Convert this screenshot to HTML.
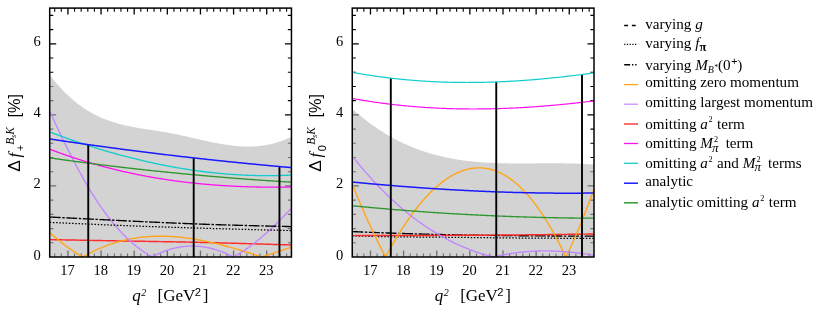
<!DOCTYPE html>
<html><head><meta charset="utf-8"><title>plot</title>
<style>
html,body{margin:0;padding:0;background:#fff;}
body{width:822px;height:310px;overflow:hidden;position:relative;font-family:"Liberation Serif",serif;}
svg{display:block;position:absolute;left:0;top:0;}
svg.txt{filter:grayscale(1);}
text{font-family:"Liberation Serif",serif;fill:#000;}
.tl{font-size:14.5px;}
.lab{font-size:17px;}
.lg{font-size:15.13px;}
.it{font-style:italic;}
.sup{font-size:10px;}
.sans{font-family:"Liberation Sans",sans-serif;}
</style></head><body>
<svg width="822" height="310" viewBox="0 0 822 310">
<rect width="822" height="310" fill="#fff"/>
<g id="left">
<path d="M54.68 257.00 v-3.60 M54.68 8.10 v3.60" stroke="#000" stroke-width="1.1"/>
<path d="M61.30 257.00 v-3.60 M61.30 8.10 v3.60" stroke="#000" stroke-width="1.1"/>
<path d="M67.93 257.00 v-6.50 M67.93 8.10 v6.50" stroke="#000" stroke-width="1.3"/>
<path d="M74.56 257.00 v-3.60 M74.56 8.10 v3.60" stroke="#000" stroke-width="1.1"/>
<path d="M81.18 257.00 v-3.60 M81.18 8.10 v3.60" stroke="#000" stroke-width="1.1"/>
<path d="M87.81 257.00 v-3.60 M87.81 8.10 v3.60" stroke="#000" stroke-width="1.1"/>
<path d="M94.43 257.00 v-3.60 M94.43 8.10 v3.60" stroke="#000" stroke-width="1.1"/>
<path d="M101.06 257.00 v-6.50 M101.06 8.10 v6.50" stroke="#000" stroke-width="1.3"/>
<path d="M107.69 257.00 v-3.60 M107.69 8.10 v3.60" stroke="#000" stroke-width="1.1"/>
<path d="M114.31 257.00 v-3.60 M114.31 8.10 v3.60" stroke="#000" stroke-width="1.1"/>
<path d="M120.94 257.00 v-3.60 M120.94 8.10 v3.60" stroke="#000" stroke-width="1.1"/>
<path d="M127.56 257.00 v-3.60 M127.56 8.10 v3.60" stroke="#000" stroke-width="1.1"/>
<path d="M134.19 257.00 v-6.50 M134.19 8.10 v6.50" stroke="#000" stroke-width="1.3"/>
<path d="M140.82 257.00 v-3.60 M140.82 8.10 v3.60" stroke="#000" stroke-width="1.1"/>
<path d="M147.44 257.00 v-3.60 M147.44 8.10 v3.60" stroke="#000" stroke-width="1.1"/>
<path d="M154.07 257.00 v-3.60 M154.07 8.10 v3.60" stroke="#000" stroke-width="1.1"/>
<path d="M160.69 257.00 v-3.60 M160.69 8.10 v3.60" stroke="#000" stroke-width="1.1"/>
<path d="M167.32 257.00 v-6.50 M167.32 8.10 v6.50" stroke="#000" stroke-width="1.3"/>
<path d="M173.95 257.00 v-3.60 M173.95 8.10 v3.60" stroke="#000" stroke-width="1.1"/>
<path d="M180.57 257.00 v-3.60 M180.57 8.10 v3.60" stroke="#000" stroke-width="1.1"/>
<path d="M187.20 257.00 v-3.60 M187.20 8.10 v3.60" stroke="#000" stroke-width="1.1"/>
<path d="M193.82 257.00 v-3.60 M193.82 8.10 v3.60" stroke="#000" stroke-width="1.1"/>
<path d="M200.45 257.00 v-6.50 M200.45 8.10 v6.50" stroke="#000" stroke-width="1.3"/>
<path d="M207.08 257.00 v-3.60 M207.08 8.10 v3.60" stroke="#000" stroke-width="1.1"/>
<path d="M213.70 257.00 v-3.60 M213.70 8.10 v3.60" stroke="#000" stroke-width="1.1"/>
<path d="M220.33 257.00 v-3.60 M220.33 8.10 v3.60" stroke="#000" stroke-width="1.1"/>
<path d="M226.95 257.00 v-3.60 M226.95 8.10 v3.60" stroke="#000" stroke-width="1.1"/>
<path d="M233.58 257.00 v-6.50 M233.58 8.10 v6.50" stroke="#000" stroke-width="1.3"/>
<path d="M240.21 257.00 v-3.60 M240.21 8.10 v3.60" stroke="#000" stroke-width="1.1"/>
<path d="M246.83 257.00 v-3.60 M246.83 8.10 v3.60" stroke="#000" stroke-width="1.1"/>
<path d="M253.46 257.00 v-3.60 M253.46 8.10 v3.60" stroke="#000" stroke-width="1.1"/>
<path d="M260.08 257.00 v-3.60 M260.08 8.10 v3.60" stroke="#000" stroke-width="1.1"/>
<path d="M266.71 257.00 v-6.50 M266.71 8.10 v6.50" stroke="#000" stroke-width="1.3"/>
<path d="M273.34 257.00 v-3.60 M273.34 8.10 v3.60" stroke="#000" stroke-width="1.1"/>
<path d="M279.96 257.00 v-3.60 M279.96 8.10 v3.60" stroke="#000" stroke-width="1.1"/>
<path d="M286.59 257.00 v-3.60 M286.59 8.10 v3.60" stroke="#000" stroke-width="1.1"/>
<path d="M49.70 242.79 h3.60 M291.45 242.79 h-3.60" stroke="#000" stroke-width="1.1"/>
<path d="M49.70 228.58 h3.60 M291.45 228.58 h-3.60" stroke="#000" stroke-width="1.1"/>
<path d="M49.70 214.36 h3.60 M291.45 214.36 h-3.60" stroke="#000" stroke-width="1.1"/>
<path d="M49.70 200.15 h3.60 M291.45 200.15 h-3.60" stroke="#000" stroke-width="1.1"/>
<path d="M49.70 185.94 h6.50 M291.45 185.94 h-6.50" stroke="#000" stroke-width="1.3"/>
<path d="M49.70 171.73 h3.60 M291.45 171.73 h-3.60" stroke="#000" stroke-width="1.1"/>
<path d="M49.70 157.52 h3.60 M291.45 157.52 h-3.60" stroke="#000" stroke-width="1.1"/>
<path d="M49.70 143.30 h3.60 M291.45 143.30 h-3.60" stroke="#000" stroke-width="1.1"/>
<path d="M49.70 129.09 h3.60 M291.45 129.09 h-3.60" stroke="#000" stroke-width="1.1"/>
<path d="M49.70 114.88 h6.50 M291.45 114.88 h-6.50" stroke="#000" stroke-width="1.3"/>
<path d="M49.70 100.67 h3.60 M291.45 100.67 h-3.60" stroke="#000" stroke-width="1.1"/>
<path d="M49.70 86.46 h3.60 M291.45 86.46 h-3.60" stroke="#000" stroke-width="1.1"/>
<path d="M49.70 72.24 h3.60 M291.45 72.24 h-3.60" stroke="#000" stroke-width="1.1"/>
<path d="M49.70 58.03 h3.60 M291.45 58.03 h-3.60" stroke="#000" stroke-width="1.1"/>
<path d="M49.70 43.82 h6.50 M291.45 43.82 h-6.50" stroke="#000" stroke-width="1.3"/>
<path d="M49.70 29.61 h3.60 M291.45 29.61 h-3.60" stroke="#000" stroke-width="1.1"/>
<path d="M49.70 15.40 h3.60 M291.45 15.40 h-3.60" stroke="#000" stroke-width="1.1"/>
<path d="M49.70 74.76 L50.70 76.07 L51.70 77.36 L52.70 78.63 L53.70 79.88 L54.69 81.10 L55.69 82.31 L56.69 83.49 L57.69 84.65 L58.69 85.78 L59.69 86.90 L60.69 88.00 L61.69 89.07 L62.69 90.13 L63.69 91.16 L64.68 92.18 L65.68 93.17 L66.68 94.15 L67.68 95.11 L68.68 96.04 L69.68 96.96 L70.68 97.86 L71.68 98.74 L72.68 99.61 L73.68 100.46 L74.67 101.28 L75.67 102.09 L76.67 102.89 L77.67 103.67 L78.67 104.43 L79.67 105.17 L80.67 105.90 L81.67 106.61 L82.67 107.30 L83.66 107.98 L84.66 108.65 L85.66 109.30 L86.66 109.93 L87.66 110.55 L88.66 111.16 L89.66 111.75 L90.66 112.33 L91.66 112.89 L92.66 113.44 L93.65 113.98 L94.65 114.50 L95.65 115.01 L96.65 115.51 L97.65 115.99 L98.65 116.46 L99.65 116.93 L100.65 117.38 L101.65 117.81 L102.65 118.24 L103.64 118.66 L104.64 119.06 L105.64 119.45 L106.64 119.84 L107.64 120.21 L108.64 120.57 L109.64 120.93 L110.64 121.27 L111.64 121.61 L112.63 121.93 L113.63 122.25 L114.63 122.56 L115.63 122.86 L116.63 123.15 L117.63 123.44 L118.63 123.71 L119.63 123.98 L120.63 124.25 L121.63 124.50 L122.62 124.75 L123.62 124.99 L124.62 125.23 L125.62 125.46 L126.62 125.68 L127.62 125.90 L128.62 126.11 L129.62 126.32 L130.62 126.52 L131.62 126.72 L132.61 126.91 L133.61 127.10 L134.61 127.28 L135.61 127.46 L136.61 127.64 L137.61 127.82 L138.61 127.99 L139.61 128.16 L140.61 128.32 L141.60 128.48 L142.60 128.64 L143.60 128.80 L144.60 128.96 L145.60 129.12 L146.60 129.27 L147.60 129.42 L148.60 129.57 L149.60 129.73 L150.60 129.88 L151.59 130.03 L152.59 130.18 L153.59 130.33 L154.59 130.48 L155.59 130.63 L156.59 130.79 L157.59 130.94 L158.59 131.10 L159.59 131.26 L160.59 131.41 L161.58 131.58 L162.58 131.74 L163.58 131.91 L164.58 132.08 L165.58 132.25 L166.58 132.42 L167.58 132.60 L168.58 132.78 L169.58 132.97 L170.57 133.16 L171.57 133.35 L172.57 133.55 L173.57 133.75 L174.57 133.95 L175.57 134.16 L176.57 134.36 L177.57 134.57 L178.57 134.79 L179.57 135.00 L180.56 135.22 L181.56 135.44 L182.56 135.66 L183.56 135.88 L184.56 136.10 L185.56 136.33 L186.56 136.55 L187.56 136.78 L188.56 137.01 L189.56 137.24 L190.55 137.47 L191.55 137.70 L192.55 137.93 L193.55 138.16 L194.55 138.39 L195.55 138.62 L196.55 138.85 L197.55 139.07 L198.55 139.30 L199.55 139.53 L200.54 139.76 L201.54 139.98 L202.54 140.21 L203.54 140.43 L204.54 140.65 L205.54 140.87 L206.54 141.09 L207.54 141.30 L208.54 141.51 L209.53 141.73 L210.53 141.93 L211.53 142.14 L212.53 142.34 L213.53 142.54 L214.53 142.74 L215.53 142.93 L216.53 143.12 L217.53 143.31 L218.53 143.49 L219.52 143.67 L220.52 143.85 L221.52 144.02 L222.52 144.19 L223.52 144.35 L224.52 144.51 L225.52 144.66 L226.52 144.81 L227.52 144.95 L228.52 145.09 L229.51 145.22 L230.51 145.35 L231.51 145.47 L232.51 145.59 L233.51 145.70 L234.51 145.80 L235.51 145.90 L236.51 145.99 L237.51 146.07 L238.50 146.15 L239.50 146.22 L240.50 146.29 L241.50 146.34 L242.50 146.39 L243.50 146.44 L244.50 146.47 L245.50 146.50 L246.50 146.52 L247.50 146.53 L248.49 146.53 L249.49 146.52 L250.49 146.51 L251.49 146.49 L252.49 146.45 L253.49 146.41 L254.49 146.36 L255.49 146.31 L256.49 146.24 L257.49 146.16 L258.48 146.07 L259.48 145.97 L260.48 145.87 L261.48 145.75 L262.48 145.62 L263.48 145.48 L264.48 145.33 L265.48 145.17 L266.48 145.00 L267.47 144.82 L268.47 144.63 L269.47 144.42 L270.47 144.20 L271.47 143.98 L272.47 143.74 L273.47 143.49 L274.47 143.22 L275.47 142.95 L276.47 142.66 L277.46 142.36 L278.46 142.04 L279.46 141.72 L280.46 141.38 L281.46 141.02 L282.46 140.66 L283.46 140.28 L284.46 139.88 L285.46 139.48 L286.46 139.06 L287.45 138.62 L288.45 138.17 L289.45 137.71 L290.45 137.23 L291.45 136.74 L291.45 257.00 L49.70 257.00 Z" fill="#b7b7b7" fill-opacity="0.61" stroke="none"/>
<path d="M49.70 239.60 L50.70 239.62 L51.70 239.64 L52.70 239.66 L53.70 239.68 L54.69 239.70 L55.69 239.71 L56.69 239.73 L57.69 239.75 L58.69 239.77 L59.69 239.79 L60.69 239.81 L61.69 239.83 L62.69 239.85 L63.69 239.87 L64.68 239.89 L65.68 239.91 L66.68 239.92 L67.68 239.94 L68.68 239.96 L69.68 239.98 L70.68 240.00 L71.68 240.02 L72.68 240.04 L73.68 240.06 L74.67 240.08 L75.67 240.09 L76.67 240.11 L77.67 240.13 L78.67 240.15 L79.67 240.17 L80.67 240.19 L81.67 240.21 L82.67 240.23 L83.66 240.25 L84.66 240.26 L85.66 240.28 L86.66 240.30 L87.66 240.32 L88.66 240.34 L89.66 240.36 L90.66 240.38 L91.66 240.40 L92.66 240.41 L93.65 240.43 L94.65 240.45 L95.65 240.47 L96.65 240.49 L97.65 240.51 L98.65 240.52 L99.65 240.54 L100.65 240.56 L101.65 240.58 L102.65 240.60 L103.64 240.62 L104.64 240.64 L105.64 240.65 L106.64 240.67 L107.64 240.69 L108.64 240.71 L109.64 240.73 L110.64 240.74 L111.64 240.76 L112.63 240.78 L113.63 240.80 L114.63 240.82 L115.63 240.83 L116.63 240.85 L117.63 240.87 L118.63 240.89 L119.63 240.91 L120.63 240.92 L121.63 240.94 L122.62 240.96 L123.62 240.98 L124.62 240.99 L125.62 241.01 L126.62 241.03 L127.62 241.05 L128.62 241.06 L129.62 241.08 L130.62 241.10 L131.62 241.12 L132.61 241.13 L133.61 241.15 L134.61 241.17 L135.61 241.18 L136.61 241.20 L137.61 241.22 L138.61 241.24 L139.61 241.25 L140.61 241.27 L141.60 241.29 L142.60 241.30 L143.60 241.32 L144.60 241.34 L145.60 241.36 L146.60 241.37 L147.60 241.39 L148.60 241.41 L149.60 241.43 L150.60 241.44 L151.59 241.46 L152.59 241.48 L153.59 241.50 L154.59 241.51 L155.59 241.53 L156.59 241.55 L157.59 241.57 L158.59 241.58 L159.59 241.60 L160.59 241.62 L161.58 241.64 L162.58 241.65 L163.58 241.67 L164.58 241.69 L165.58 241.71 L166.58 241.73 L167.58 241.74 L168.58 241.76 L169.58 241.78 L170.57 241.80 L171.57 241.82 L172.57 241.84 L173.57 241.86 L174.57 241.87 L175.57 241.89 L176.57 241.91 L177.57 241.93 L178.57 241.95 L179.57 241.97 L180.56 241.99 L181.56 242.01 L182.56 242.03 L183.56 242.05 L184.56 242.07 L185.56 242.09 L186.56 242.11 L187.56 242.13 L188.56 242.15 L189.56 242.17 L190.55 242.19 L191.55 242.21 L192.55 242.23 L193.55 242.25 L194.55 242.27 L195.55 242.30 L196.55 242.32 L197.55 242.34 L198.55 242.36 L199.55 242.38 L200.54 242.41 L201.54 242.43 L202.54 242.45 L203.54 242.47 L204.54 242.50 L205.54 242.52 L206.54 242.54 L207.54 242.57 L208.54 242.59 L209.53 242.61 L210.53 242.64 L211.53 242.66 L212.53 242.69 L213.53 242.71 L214.53 242.73 L215.53 242.76 L216.53 242.78 L217.53 242.81 L218.53 242.84 L219.52 242.86 L220.52 242.89 L221.52 242.91 L222.52 242.94 L223.52 242.97 L224.52 242.99 L225.52 243.02 L226.52 243.04 L227.52 243.07 L228.52 243.10 L229.51 243.13 L230.51 243.15 L231.51 243.18 L232.51 243.21 L233.51 243.24 L234.51 243.26 L235.51 243.29 L236.51 243.32 L237.51 243.35 L238.50 243.38 L239.50 243.41 L240.50 243.43 L241.50 243.46 L242.50 243.49 L243.50 243.52 L244.50 243.55 L245.50 243.58 L246.50 243.61 L247.50 243.64 L248.49 243.67 L249.49 243.70 L250.49 243.73 L251.49 243.76 L252.49 243.79 L253.49 243.82 L254.49 243.85 L255.49 243.88 L256.49 243.91 L257.49 243.94 L258.48 243.97 L259.48 244.00 L260.48 244.03 L261.48 244.06 L262.48 244.09 L263.48 244.12 L264.48 244.15 L265.48 244.18 L266.48 244.21 L267.47 244.24 L268.47 244.28 L269.47 244.31 L270.47 244.34 L271.47 244.37 L272.47 244.40 L273.47 244.43 L274.47 244.46 L275.47 244.49 L276.47 244.53 L277.46 244.56 L278.46 244.59 L279.46 244.62 L280.46 244.65 L281.46 244.68 L282.46 244.71 L283.46 244.75 L284.46 244.78 L285.46 244.81 L286.46 244.84 L287.45 244.87 L288.45 244.90 L289.45 244.94 L290.45 244.97 L291.45 245.00" fill="none" stroke="#ff2a2a" stroke-width="1.45" stroke-linejoin="round" stroke-linecap="butt"/>
<path d="M49.70 232.43 L50.70 233.34 L51.70 234.24 L52.70 235.12 L53.70 236.00 L54.69 236.86 L55.69 237.72 L56.69 238.56 L57.69 239.39 L58.69 240.22 L59.69 241.03 L60.69 241.83 L61.69 242.62 L62.69 243.41 L63.69 244.18 L64.68 244.94 L65.68 245.69 L66.68 246.43 L67.68 247.16 L68.68 247.88 L69.68 248.60 L70.68 249.30 L71.68 249.99 L72.68 250.67 L73.68 251.34 L74.67 252.00 L75.67 252.66 L76.67 253.30 L77.67 253.93 L78.67 254.56 L79.67 255.17 L80.67 255.78 L81.67 256.37 L82.67 256.96 L82.73 257.00 L83.66 256.46 L84.66 255.89 L85.66 255.34 L86.66 254.79 L87.66 254.25 L88.66 253.71 L89.66 253.19 L90.66 252.68 L91.66 252.17 L92.66 251.68 L93.65 251.19 L94.65 250.71 L95.65 250.24 L96.65 249.78 L97.65 249.33 L98.65 248.88 L99.65 248.45 L100.65 248.02 L101.65 247.60 L102.65 247.20 L103.64 246.79 L104.64 246.40 L105.64 246.02 L106.64 245.64 L107.64 245.27 L108.64 244.91 L109.64 244.56 L110.64 244.21 L111.64 243.88 L112.63 243.55 L113.63 243.23 L114.63 242.91 L115.63 242.61 L116.63 242.31 L117.63 242.02 L118.63 241.74 L119.63 241.47 L120.63 241.20 L121.63 240.94 L122.62 240.69 L123.62 240.44 L124.62 240.21 L125.62 239.98 L126.62 239.76 L127.62 239.54 L128.62 239.33 L129.62 239.13 L130.62 238.94 L131.62 238.75 L132.61 238.57 L133.61 238.40 L134.61 238.23 L135.61 238.07 L136.61 237.92 L137.61 237.78 L138.61 237.64 L139.61 237.51 L140.61 237.38 L141.60 237.26 L142.60 237.15 L143.60 237.04 L144.60 236.94 L145.60 236.85 L146.60 236.77 L147.60 236.68 L148.60 236.61 L149.60 236.54 L150.60 236.48 L151.59 236.43 L152.59 236.38 L153.59 236.33 L154.59 236.30 L155.59 236.26 L156.59 236.24 L157.59 236.22 L158.59 236.20 L159.59 236.20 L160.59 236.19 L161.58 236.20 L162.58 236.21 L163.58 236.22 L164.58 236.24 L165.58 236.26 L166.58 236.30 L167.58 236.33 L168.58 236.37 L169.58 236.42 L170.57 236.47 L171.57 236.53 L172.57 236.59 L173.57 236.66 L174.57 236.73 L175.57 236.81 L176.57 236.89 L177.57 236.98 L178.57 237.07 L179.57 237.17 L180.56 237.27 L181.56 237.37 L182.56 237.49 L183.56 237.60 L184.56 237.72 L185.56 237.85 L186.56 237.98 L187.56 238.11 L188.56 238.25 L189.56 238.39 L190.55 238.54 L191.55 238.69 L192.55 238.84 L193.55 239.00 L194.55 239.17 L195.55 239.33 L196.55 239.50 L197.55 239.68 L198.55 239.86 L199.55 240.04 L200.54 240.23 L201.54 240.42 L202.54 240.62 L203.54 240.81 L204.54 241.01 L205.54 241.22 L206.54 241.43 L207.54 241.64 L208.54 241.86 L209.53 242.08 L210.53 242.30 L211.53 242.52 L212.53 242.75 L213.53 242.98 L214.53 243.22 L215.53 243.46 L216.53 243.70 L217.53 243.94 L218.53 244.19 L219.52 244.44 L220.52 244.69 L221.52 244.95 L222.52 245.21 L223.52 245.47 L224.52 245.73 L225.52 246.00 L226.52 246.27 L227.52 246.54 L228.52 246.81 L229.51 247.09 L230.51 247.36 L231.51 247.64 L232.51 247.93 L233.51 248.21 L234.51 248.50 L235.51 248.79 L236.51 249.08 L237.51 249.37 L238.50 249.67 L239.50 249.97 L240.50 250.26 L241.50 250.56 L242.50 250.87 L243.50 251.17 L244.50 251.48 L245.50 251.78 L246.50 252.09 L247.50 252.40 L248.49 252.71 L249.49 253.03 L250.49 253.34 L251.49 253.66 L252.49 253.97 L253.49 254.29 L254.49 254.61 L255.49 254.93 L256.49 255.25 L257.49 255.58 L258.48 255.90 L259.48 256.22 L260.48 256.55 L261.48 256.88 L261.86 257.00 L262.48 256.80 L263.48 256.47 L264.48 256.14 L265.48 255.81 L266.48 255.48 L267.47 255.15 L268.47 254.82 L269.47 254.49 L270.47 254.16 L271.47 253.83 L272.47 253.50 L273.47 253.17 L274.47 252.83 L275.47 252.50 L276.47 252.17 L277.46 251.84 L278.46 251.51 L279.46 251.17 L280.46 250.84 L281.46 250.51 L282.46 250.18 L283.46 249.85 L284.46 249.52 L285.46 249.19 L286.46 248.86 L287.45 248.53 L288.45 248.20 L289.45 247.87 L290.45 247.54 L291.45 247.21" fill="none" stroke="#ffa51a" stroke-width="1.38" stroke-linejoin="round" stroke-linecap="butt"/>
<path d="M49.70 111.08 L50.70 113.28 L51.70 115.48 L52.70 117.67 L53.70 119.84 L54.69 122.01 L55.69 124.16 L56.69 126.30 L57.69 128.44 L58.69 130.56 L59.69 132.66 L60.69 134.76 L61.69 136.84 L62.69 138.92 L63.69 140.97 L64.68 143.02 L65.68 145.05 L66.68 147.07 L67.68 149.08 L68.68 151.08 L69.68 153.05 L70.68 155.02 L71.68 156.97 L72.68 158.91 L73.68 160.83 L74.67 162.74 L75.67 164.63 L76.67 166.51 L77.67 168.37 L78.67 170.22 L79.67 172.05 L80.67 173.87 L81.67 175.66 L82.67 177.45 L83.66 179.21 L84.66 180.96 L85.66 182.70 L86.66 184.41 L87.66 186.11 L88.66 187.79 L89.66 189.45 L90.66 191.10 L91.66 192.72 L92.66 194.33 L93.65 195.92 L94.65 197.49 L95.65 199.04 L96.65 200.58 L97.65 202.09 L98.65 203.59 L99.65 205.06 L100.65 206.51 L101.65 207.95 L102.65 209.37 L103.64 210.76 L104.64 212.14 L105.64 213.50 L106.64 214.83 L107.64 216.15 L108.64 217.45 L109.64 218.74 L110.64 220.00 L111.64 221.24 L112.63 222.47 L113.63 223.67 L114.63 224.86 L115.63 226.03 L116.63 227.18 L117.63 228.32 L118.63 229.43 L119.63 230.53 L120.63 231.61 L121.63 232.67 L122.62 233.72 L123.62 234.74 L124.62 235.75 L125.62 236.74 L126.62 237.72 L127.62 238.67 L128.62 239.61 L129.62 240.53 L130.62 241.44 L131.62 242.33 L132.61 243.20 L133.61 244.06 L134.61 244.89 L135.61 245.72 L136.61 246.52 L137.61 247.31 L138.61 248.08 L139.61 248.84 L140.61 249.58 L141.60 250.31 L142.60 251.02 L143.60 251.71 L144.60 252.39 L145.60 253.05 L146.60 253.69 L147.60 254.32 L148.60 254.94 L149.60 255.54 L150.60 256.13 L151.59 256.70 L152.14 257.00 L152.59 256.75 L153.59 256.21 L154.59 255.68 L155.59 255.17 L156.59 254.68 L157.59 254.20 L158.59 253.73 L159.59 253.28 L160.59 252.84 L161.58 252.41 L162.58 252.00 L163.58 251.61 L164.58 251.22 L165.58 250.85 L166.58 250.50 L167.58 250.16 L168.58 249.83 L169.58 249.52 L170.57 249.22 L171.57 248.93 L172.57 248.66 L173.57 248.40 L174.57 248.15 L175.57 247.92 L176.57 247.70 L177.57 247.50 L178.57 247.31 L179.57 247.13 L180.56 246.96 L181.56 246.81 L182.56 246.67 L183.56 246.55 L184.56 246.44 L185.56 246.34 L186.56 246.26 L187.56 246.19 L188.56 246.13 L189.56 246.09 L190.55 246.06 L191.55 246.04 L192.55 246.04 L193.55 246.05 L194.55 246.07 L195.55 246.11 L196.55 246.16 L197.55 246.22 L198.55 246.30 L199.55 246.38 L200.54 246.49 L201.54 246.60 L202.54 246.73 L203.54 246.87 L204.54 247.03 L205.54 247.20 L206.54 247.38 L207.54 247.57 L208.54 247.78 L209.53 248.00 L210.53 248.23 L211.53 248.48 L212.53 248.74 L213.53 249.01 L214.53 249.29 L215.53 249.59 L216.53 249.90 L217.53 250.23 L218.53 250.56 L219.52 250.91 L220.52 251.28 L221.52 251.65 L222.52 252.04 L223.52 252.44 L224.52 252.86 L225.52 253.28 L226.52 253.72 L227.52 254.17 L228.52 254.64 L229.51 255.12 L230.51 255.61 L231.51 256.11 L232.51 256.62 L233.22 257.00 L233.51 256.85 L234.51 256.31 L235.51 255.75 L236.51 255.19 L237.51 254.61 L238.50 254.02 L239.50 253.42 L240.50 252.80 L241.50 252.17 L242.50 251.54 L243.50 250.89 L244.50 250.22 L245.50 249.55 L246.50 248.87 L247.50 248.17 L248.49 247.47 L249.49 246.75 L250.49 246.02 L251.49 245.28 L252.49 244.53 L253.49 243.77 L254.49 243.00 L255.49 242.22 L256.49 241.42 L257.49 240.62 L258.48 239.81 L259.48 238.99 L260.48 238.16 L261.48 237.32 L262.48 236.47 L263.48 235.60 L264.48 234.74 L265.48 233.86 L266.48 232.97 L267.47 232.07 L268.47 231.17 L269.47 230.25 L270.47 229.33 L271.47 228.39 L272.47 227.45 L273.47 226.51 L274.47 225.55 L275.47 224.58 L276.47 223.61 L277.46 222.63 L278.46 221.64 L279.46 220.64 L280.46 219.64 L281.46 218.63 L282.46 217.61 L283.46 216.58 L284.46 215.55 L285.46 214.51 L286.46 213.46 L287.45 212.40 L288.45 211.34 L289.45 210.28 L290.45 209.20 L291.45 208.12" fill="none" stroke="#c285ff" stroke-width="1.35" stroke-linejoin="round" stroke-linecap="butt"/>
<path d="M49.70 149.20 L50.70 149.58 L51.70 149.96 L52.70 150.33 L53.70 150.71 L54.69 151.08 L55.69 151.45 L56.69 151.82 L57.69 152.18 L58.69 152.54 L59.69 152.90 L60.69 153.26 L61.69 153.62 L62.69 153.97 L63.69 154.32 L64.68 154.67 L65.68 155.02 L66.68 155.36 L67.68 155.71 L68.68 156.05 L69.68 156.38 L70.68 156.72 L71.68 157.05 L72.68 157.39 L73.68 157.72 L74.67 158.04 L75.67 158.37 L76.67 158.69 L77.67 159.01 L78.67 159.33 L79.67 159.65 L80.67 159.96 L81.67 160.28 L82.67 160.59 L83.66 160.89 L84.66 161.20 L85.66 161.50 L86.66 161.81 L87.66 162.11 L88.66 162.40 L89.66 162.70 L90.66 162.99 L91.66 163.28 L92.66 163.57 L93.65 163.86 L94.65 164.15 L95.65 164.43 L96.65 164.71 L97.65 164.99 L98.65 165.27 L99.65 165.54 L100.65 165.81 L101.65 166.09 L102.65 166.35 L103.64 166.62 L104.64 166.89 L105.64 167.15 L106.64 167.41 L107.64 167.67 L108.64 167.93 L109.64 168.18 L110.64 168.43 L111.64 168.69 L112.63 168.93 L113.63 169.18 L114.63 169.43 L115.63 169.67 L116.63 169.91 L117.63 170.15 L118.63 170.39 L119.63 170.62 L120.63 170.86 L121.63 171.09 L122.62 171.32 L123.62 171.55 L124.62 171.77 L125.62 172.00 L126.62 172.22 L127.62 172.44 L128.62 172.66 L129.62 172.88 L130.62 173.09 L131.62 173.30 L132.61 173.51 L133.61 173.72 L134.61 173.93 L135.61 174.14 L136.61 174.34 L137.61 174.54 L138.61 174.74 L139.61 174.94 L140.61 175.14 L141.60 175.33 L142.60 175.52 L143.60 175.71 L144.60 175.90 L145.60 176.09 L146.60 176.28 L147.60 176.46 L148.60 176.64 L149.60 176.82 L150.60 177.00 L151.59 177.18 L152.59 177.35 L153.59 177.52 L154.59 177.70 L155.59 177.87 L156.59 178.03 L157.59 178.20 L158.59 178.36 L159.59 178.53 L160.59 178.69 L161.58 178.85 L162.58 179.01 L163.58 179.16 L164.58 179.32 L165.58 179.47 L166.58 179.62 L167.58 179.77 L168.58 179.92 L169.58 180.06 L170.57 180.21 L171.57 180.35 L172.57 180.49 L173.57 180.63 L174.57 180.77 L175.57 180.90 L176.57 181.04 L177.57 181.17 L178.57 181.30 L179.57 181.43 L180.56 181.56 L181.56 181.69 L182.56 181.81 L183.56 181.93 L184.56 182.05 L185.56 182.17 L186.56 182.29 L187.56 182.41 L188.56 182.53 L189.56 182.64 L190.55 182.75 L191.55 182.86 L192.55 182.97 L193.55 183.08 L194.55 183.18 L195.55 183.29 L196.55 183.39 L197.55 183.49 L198.55 183.59 L199.55 183.69 L200.54 183.79 L201.54 183.88 L202.54 183.98 L203.54 184.07 L204.54 184.16 L205.54 184.25 L206.54 184.34 L207.54 184.43 L208.54 184.51 L209.53 184.59 L210.53 184.68 L211.53 184.76 L212.53 184.84 L213.53 184.91 L214.53 184.99 L215.53 185.07 L216.53 185.14 L217.53 185.21 L218.53 185.28 L219.52 185.35 L220.52 185.42 L221.52 185.49 L222.52 185.55 L223.52 185.62 L224.52 185.68 L225.52 185.74 L226.52 185.80 L227.52 185.86 L228.52 185.91 L229.51 185.97 L230.51 186.02 L231.51 186.08 L232.51 186.13 L233.51 186.18 L234.51 186.23 L235.51 186.28 L236.51 186.32 L237.51 186.37 L238.50 186.41 L239.50 186.45 L240.50 186.49 L241.50 186.53 L242.50 186.57 L243.50 186.61 L244.50 186.65 L245.50 186.68 L246.50 186.71 L247.50 186.75 L248.49 186.78 L249.49 186.81 L250.49 186.84 L251.49 186.86 L252.49 186.89 L253.49 186.91 L254.49 186.94 L255.49 186.96 L256.49 186.98 L257.49 187.00 L258.48 187.02 L259.48 187.04 L260.48 187.05 L261.48 187.07 L262.48 187.08 L263.48 187.10 L264.48 187.11 L265.48 187.12 L266.48 187.13 L267.47 187.14 L268.47 187.14 L269.47 187.15 L270.47 187.15 L271.47 187.16 L272.47 187.16 L273.47 187.16 L274.47 187.16 L275.47 187.16 L276.47 187.16 L277.46 187.16 L278.46 187.15 L279.46 187.15 L280.46 187.14 L281.46 187.13 L282.46 187.12 L283.46 187.11 L284.46 187.10 L285.46 187.09 L286.46 187.08 L287.45 187.07 L288.45 187.05 L289.45 187.04 L290.45 187.02 L291.45 187.00" fill="none" stroke="#ff10f0" stroke-width="1.3" stroke-linejoin="round" stroke-linecap="butt"/>
<path d="M49.70 131.93 L50.70 132.31 L51.70 132.69 L52.70 133.07 L53.70 133.44 L54.69 133.82 L55.69 134.19 L56.69 134.56 L57.69 134.93 L58.69 135.30 L59.69 135.66 L60.69 136.03 L61.69 136.39 L62.69 136.76 L63.69 137.12 L64.68 137.48 L65.68 137.83 L66.68 138.19 L67.68 138.54 L68.68 138.90 L69.68 139.25 L70.68 139.60 L71.68 139.95 L72.68 140.30 L73.68 140.64 L74.67 140.99 L75.67 141.33 L76.67 141.67 L77.67 142.01 L78.67 142.35 L79.67 142.68 L80.67 143.02 L81.67 143.35 L82.67 143.68 L83.66 144.01 L84.66 144.34 L85.66 144.67 L86.66 145.00 L87.66 145.32 L88.66 145.64 L89.66 145.96 L90.66 146.28 L91.66 146.60 L92.66 146.92 L93.65 147.23 L94.65 147.54 L95.65 147.86 L96.65 148.17 L97.65 148.47 L98.65 148.78 L99.65 149.09 L100.65 149.39 L101.65 149.69 L102.65 149.99 L103.64 150.29 L104.64 150.59 L105.64 150.88 L106.64 151.18 L107.64 151.47 L108.64 151.76 L109.64 152.05 L110.64 152.34 L111.64 152.62 L112.63 152.91 L113.63 153.19 L114.63 153.47 L115.63 153.75 L116.63 154.03 L117.63 154.30 L118.63 154.58 L119.63 154.85 L120.63 155.12 L121.63 155.39 L122.62 155.66 L123.62 155.92 L124.62 156.19 L125.62 156.45 L126.62 156.71 L127.62 156.97 L128.62 157.23 L129.62 157.49 L130.62 157.74 L131.62 157.99 L132.61 158.24 L133.61 158.49 L134.61 158.74 L135.61 158.99 L136.61 159.23 L137.61 159.48 L138.61 159.72 L139.61 159.96 L140.61 160.19 L141.60 160.43 L142.60 160.66 L143.60 160.90 L144.60 161.13 L145.60 161.36 L146.60 161.58 L147.60 161.81 L148.60 162.03 L149.60 162.25 L150.60 162.48 L151.59 162.69 L152.59 162.91 L153.59 163.13 L154.59 163.34 L155.59 163.55 L156.59 163.76 L157.59 163.97 L158.59 164.18 L159.59 164.38 L160.59 164.59 L161.58 164.79 L162.58 164.99 L163.58 165.18 L164.58 165.38 L165.58 165.57 L166.58 165.77 L167.58 165.96 L168.58 166.15 L169.58 166.33 L170.57 166.52 L171.57 166.70 L172.57 166.89 L173.57 167.07 L174.57 167.24 L175.57 167.42 L176.57 167.60 L177.57 167.77 L178.57 167.94 L179.57 168.11 L180.56 168.28 L181.56 168.44 L182.56 168.61 L183.56 168.77 L184.56 168.93 L185.56 169.09 L186.56 169.24 L187.56 169.40 L188.56 169.55 L189.56 169.70 L190.55 169.85 L191.55 170.00 L192.55 170.15 L193.55 170.29 L194.55 170.43 L195.55 170.57 L196.55 170.71 L197.55 170.85 L198.55 170.98 L199.55 171.12 L200.54 171.25 L201.54 171.38 L202.54 171.50 L203.54 171.63 L204.54 171.75 L205.54 171.87 L206.54 171.99 L207.54 172.11 L208.54 172.23 L209.53 172.34 L210.53 172.45 L211.53 172.57 L212.53 172.67 L213.53 172.78 L214.53 172.89 L215.53 172.99 L216.53 173.09 L217.53 173.19 L218.53 173.29 L219.52 173.38 L220.52 173.47 L221.52 173.57 L222.52 173.66 L223.52 173.74 L224.52 173.83 L225.52 173.91 L226.52 174.00 L227.52 174.08 L228.52 174.15 L229.51 174.23 L230.51 174.30 L231.51 174.38 L232.51 174.45 L233.51 174.52 L234.51 174.58 L235.51 174.65 L236.51 174.71 L237.51 174.77 L238.50 174.83 L239.50 174.88 L240.50 174.94 L241.50 174.99 L242.50 175.04 L243.50 175.09 L244.50 175.14 L245.50 175.18 L246.50 175.23 L247.50 175.27 L248.49 175.31 L249.49 175.34 L250.49 175.38 L251.49 175.41 L252.49 175.44 L253.49 175.47 L254.49 175.50 L255.49 175.53 L256.49 175.55 L257.49 175.57 L258.48 175.59 L259.48 175.61 L260.48 175.62 L261.48 175.63 L262.48 175.65 L263.48 175.66 L264.48 175.66 L265.48 175.67 L266.48 175.67 L267.47 175.67 L268.47 175.67 L269.47 175.67 L270.47 175.66 L271.47 175.66 L272.47 175.65 L273.47 175.64 L274.47 175.62 L275.47 175.61 L276.47 175.59 L277.46 175.57 L278.46 175.55 L279.46 175.53 L280.46 175.50 L281.46 175.47 L282.46 175.44 L283.46 175.41 L284.46 175.38 L285.46 175.34 L286.46 175.30 L287.45 175.26 L288.45 175.22 L289.45 175.18 L290.45 175.13 L291.45 175.08" fill="none" stroke="#10cccc" stroke-width="1.3" stroke-linejoin="round" stroke-linecap="butt"/>
<path d="M49.70 157.87 L50.70 158.02 L51.70 158.16 L52.70 158.30 L53.70 158.45 L54.69 158.59 L55.69 158.73 L56.69 158.87 L57.69 159.01 L58.69 159.15 L59.69 159.29 L60.69 159.43 L61.69 159.57 L62.69 159.71 L63.69 159.85 L64.68 159.99 L65.68 160.12 L66.68 160.26 L67.68 160.40 L68.68 160.53 L69.68 160.67 L70.68 160.81 L71.68 160.94 L72.68 161.08 L73.68 161.21 L74.67 161.35 L75.67 161.48 L76.67 161.61 L77.67 161.75 L78.67 161.88 L79.67 162.01 L80.67 162.14 L81.67 162.28 L82.67 162.41 L83.66 162.54 L84.66 162.67 L85.66 162.80 L86.66 162.93 L87.66 163.06 L88.66 163.19 L89.66 163.32 L90.66 163.45 L91.66 163.57 L92.66 163.70 L93.65 163.83 L94.65 163.95 L95.65 164.08 L96.65 164.21 L97.65 164.33 L98.65 164.46 L99.65 164.58 L100.65 164.71 L101.65 164.83 L102.65 164.96 L103.64 165.08 L104.64 165.20 L105.64 165.33 L106.64 165.45 L107.64 165.57 L108.64 165.69 L109.64 165.81 L110.64 165.94 L111.64 166.06 L112.63 166.18 L113.63 166.30 L114.63 166.42 L115.63 166.54 L116.63 166.65 L117.63 166.77 L118.63 166.89 L119.63 167.01 L120.63 167.13 L121.63 167.24 L122.62 167.36 L123.62 167.48 L124.62 167.59 L125.62 167.71 L126.62 167.82 L127.62 167.94 L128.62 168.05 L129.62 168.17 L130.62 168.28 L131.62 168.39 L132.61 168.51 L133.61 168.62 L134.61 168.73 L135.61 168.84 L136.61 168.96 L137.61 169.07 L138.61 169.18 L139.61 169.29 L140.61 169.40 L141.60 169.51 L142.60 169.62 L143.60 169.73 L144.60 169.84 L145.60 169.95 L146.60 170.05 L147.60 170.16 L148.60 170.27 L149.60 170.38 L150.60 170.48 L151.59 170.59 L152.59 170.70 L153.59 170.80 L154.59 170.91 L155.59 171.01 L156.59 171.12 L157.59 171.22 L158.59 171.33 L159.59 171.43 L160.59 171.53 L161.58 171.64 L162.58 171.74 L163.58 171.84 L164.58 171.94 L165.58 172.04 L166.58 172.14 L167.58 172.25 L168.58 172.35 L169.58 172.45 L170.57 172.55 L171.57 172.65 L172.57 172.74 L173.57 172.84 L174.57 172.94 L175.57 173.04 L176.57 173.14 L177.57 173.24 L178.57 173.33 L179.57 173.43 L180.56 173.53 L181.56 173.62 L182.56 173.72 L183.56 173.81 L184.56 173.91 L185.56 174.00 L186.56 174.10 L187.56 174.19 L188.56 174.28 L189.56 174.38 L190.55 174.47 L191.55 174.56 L192.55 174.66 L193.55 174.75 L194.55 174.84 L195.55 174.93 L196.55 175.02 L197.55 175.11 L198.55 175.20 L199.55 175.29 L200.54 175.38 L201.54 175.47 L202.54 175.56 L203.54 175.65 L204.54 175.74 L205.54 175.83 L206.54 175.91 L207.54 176.00 L208.54 176.09 L209.53 176.17 L210.53 176.26 L211.53 176.35 L212.53 176.43 L213.53 176.52 L214.53 176.60 L215.53 176.69 L216.53 176.77 L217.53 176.86 L218.53 176.94 L219.52 177.02 L220.52 177.11 L221.52 177.19 L222.52 177.27 L223.52 177.35 L224.52 177.43 L225.52 177.52 L226.52 177.60 L227.52 177.68 L228.52 177.76 L229.51 177.84 L230.51 177.92 L231.51 178.00 L232.51 178.08 L233.51 178.16 L234.51 178.23 L235.51 178.31 L236.51 178.39 L237.51 178.47 L238.50 178.54 L239.50 178.62 L240.50 178.70 L241.50 178.77 L242.50 178.85 L243.50 178.93 L244.50 179.00 L245.50 179.08 L246.50 179.15 L247.50 179.23 L248.49 179.30 L249.49 179.37 L250.49 179.45 L251.49 179.52 L252.49 179.59 L253.49 179.66 L254.49 179.74 L255.49 179.81 L256.49 179.88 L257.49 179.95 L258.48 180.02 L259.48 180.09 L260.48 180.16 L261.48 180.23 L262.48 180.30 L263.48 180.37 L264.48 180.44 L265.48 180.51 L266.48 180.58 L267.47 180.64 L268.47 180.71 L269.47 180.78 L270.47 180.85 L271.47 180.91 L272.47 180.98 L273.47 181.05 L274.47 181.11 L275.47 181.18 L276.47 181.24 L277.46 181.31 L278.46 181.37 L279.46 181.44 L280.46 181.50 L281.46 181.56 L282.46 181.63 L283.46 181.69 L284.46 181.75 L285.46 181.82 L286.46 181.88 L287.45 181.94 L288.45 182.00 L289.45 182.06 L290.45 182.12 L291.45 182.18" fill="none" stroke="#2f962f" stroke-width="1.35" stroke-linejoin="round" stroke-linecap="butt"/>
<path d="M49.70 222.40 L50.70 222.44 L51.70 222.49 L52.70 222.53 L53.70 222.58 L54.69 222.62 L55.69 222.67 L56.69 222.71 L57.69 222.75 L58.69 222.80 L59.69 222.84 L60.69 222.89 L61.69 222.93 L62.69 222.98 L63.69 223.02 L64.68 223.06 L65.68 223.11 L66.68 223.15 L67.68 223.20 L68.68 223.24 L69.68 223.28 L70.68 223.33 L71.68 223.37 L72.68 223.42 L73.68 223.46 L74.67 223.50 L75.67 223.55 L76.67 223.59 L77.67 223.63 L78.67 223.68 L79.67 223.72 L80.67 223.76 L81.67 223.81 L82.67 223.85 L83.66 223.89 L84.66 223.94 L85.66 223.98 L86.66 224.02 L87.66 224.07 L88.66 224.11 L89.66 224.15 L90.66 224.20 L91.66 224.24 L92.66 224.28 L93.65 224.32 L94.65 224.37 L95.65 224.41 L96.65 224.45 L97.65 224.49 L98.65 224.53 L99.65 224.58 L100.65 224.62 L101.65 224.66 L102.65 224.70 L103.64 224.74 L104.64 224.78 L105.64 224.82 L106.64 224.87 L107.64 224.91 L108.64 224.95 L109.64 224.99 L110.64 225.03 L111.64 225.07 L112.63 225.11 L113.63 225.15 L114.63 225.19 L115.63 225.23 L116.63 225.27 L117.63 225.31 L118.63 225.35 L119.63 225.39 L120.63 225.43 L121.63 225.47 L122.62 225.51 L123.62 225.55 L124.62 225.59 L125.62 225.62 L126.62 225.66 L127.62 225.70 L128.62 225.74 L129.62 225.78 L130.62 225.82 L131.62 225.85 L132.61 225.89 L133.61 225.93 L134.61 225.97 L135.61 226.00 L136.61 226.04 L137.61 226.08 L138.61 226.11 L139.61 226.15 L140.61 226.19 L141.60 226.22 L142.60 226.26 L143.60 226.29 L144.60 226.33 L145.60 226.37 L146.60 226.40 L147.60 226.44 L148.60 226.47 L149.60 226.51 L150.60 226.54 L151.59 226.58 L152.59 226.61 L153.59 226.65 L154.59 226.68 L155.59 226.72 L156.59 226.75 L157.59 226.79 L158.59 226.82 L159.59 226.85 L160.59 226.89 L161.58 226.92 L162.58 226.96 L163.58 226.99 L164.58 227.02 L165.58 227.06 L166.58 227.09 L167.58 227.12 L168.58 227.15 L169.58 227.19 L170.57 227.22 L171.57 227.25 L172.57 227.29 L173.57 227.32 L174.57 227.35 L175.57 227.38 L176.57 227.41 L177.57 227.45 L178.57 227.48 L179.57 227.51 L180.56 227.54 L181.56 227.57 L182.56 227.60 L183.56 227.64 L184.56 227.67 L185.56 227.70 L186.56 227.73 L187.56 227.76 L188.56 227.79 L189.56 227.82 L190.55 227.85 L191.55 227.88 L192.55 227.91 L193.55 227.94 L194.55 227.97 L195.55 228.00 L196.55 228.03 L197.55 228.06 L198.55 228.09 L199.55 228.12 L200.54 228.15 L201.54 228.18 L202.54 228.21 L203.54 228.24 L204.54 228.27 L205.54 228.30 L206.54 228.33 L207.54 228.36 L208.54 228.39 L209.53 228.42 L210.53 228.44 L211.53 228.47 L212.53 228.50 L213.53 228.53 L214.53 228.56 L215.53 228.59 L216.53 228.62 L217.53 228.64 L218.53 228.67 L219.52 228.70 L220.52 228.73 L221.52 228.76 L222.52 228.78 L223.52 228.81 L224.52 228.84 L225.52 228.87 L226.52 228.90 L227.52 228.92 L228.52 228.95 L229.51 228.98 L230.51 229.01 L231.51 229.03 L232.51 229.06 L233.51 229.09 L234.51 229.11 L235.51 229.14 L236.51 229.17 L237.51 229.20 L238.50 229.22 L239.50 229.25 L240.50 229.28 L241.50 229.30 L242.50 229.33 L243.50 229.36 L244.50 229.38 L245.50 229.41 L246.50 229.44 L247.50 229.46 L248.49 229.49 L249.49 229.52 L250.49 229.54 L251.49 229.57 L252.49 229.59 L253.49 229.62 L254.49 229.65 L255.49 229.67 L256.49 229.70 L257.49 229.73 L258.48 229.75 L259.48 229.78 L260.48 229.80 L261.48 229.83 L262.48 229.86 L263.48 229.88 L264.48 229.91 L265.48 229.93 L266.48 229.96 L267.47 229.98 L268.47 230.01 L269.47 230.04 L270.47 230.06 L271.47 230.09 L272.47 230.11 L273.47 230.14 L274.47 230.17 L275.47 230.19 L276.47 230.22 L277.46 230.24 L278.46 230.27 L279.46 230.29 L280.46 230.32 L281.46 230.34 L282.46 230.37 L283.46 230.40 L284.46 230.42 L285.46 230.45 L286.46 230.47 L287.45 230.50 L288.45 230.52 L289.45 230.55 L290.45 230.57 L291.45 230.60" fill="none" stroke="#000" stroke-width="1.25" stroke-linejoin="round" stroke-linecap="butt" stroke-dasharray="1.5 1.7"/>
<path d="M49.70 217.00 L50.70 217.05 L51.70 217.10 L52.70 217.15 L53.70 217.21 L54.69 217.26 L55.69 217.31 L56.69 217.36 L57.69 217.41 L58.69 217.46 L59.69 217.51 L60.69 217.56 L61.69 217.62 L62.69 217.67 L63.69 217.72 L64.68 217.77 L65.68 217.82 L66.68 217.87 L67.68 217.92 L68.68 217.97 L69.68 218.02 L70.68 218.08 L71.68 218.13 L72.68 218.18 L73.68 218.23 L74.67 218.28 L75.67 218.33 L76.67 218.38 L77.67 218.43 L78.67 218.48 L79.67 218.53 L80.67 218.59 L81.67 218.64 L82.67 218.69 L83.66 218.74 L84.66 218.79 L85.66 218.84 L86.66 218.89 L87.66 218.94 L88.66 218.99 L89.66 219.04 L90.66 219.09 L91.66 219.14 L92.66 219.19 L93.65 219.24 L94.65 219.29 L95.65 219.34 L96.65 219.40 L97.65 219.45 L98.65 219.50 L99.65 219.55 L100.65 219.60 L101.65 219.65 L102.65 219.70 L103.64 219.75 L104.64 219.80 L105.64 219.85 L106.64 219.90 L107.64 219.95 L108.64 219.99 L109.64 220.04 L110.64 220.09 L111.64 220.14 L112.63 220.19 L113.63 220.24 L114.63 220.29 L115.63 220.34 L116.63 220.39 L117.63 220.44 L118.63 220.49 L119.63 220.54 L120.63 220.59 L121.63 220.64 L122.62 220.68 L123.62 220.73 L124.62 220.78 L125.62 220.83 L126.62 220.88 L127.62 220.93 L128.62 220.98 L129.62 221.02 L130.62 221.07 L131.62 221.12 L132.61 221.17 L133.61 221.22 L134.61 221.26 L135.61 221.31 L136.61 221.36 L137.61 221.41 L138.61 221.45 L139.61 221.50 L140.61 221.55 L141.60 221.60 L142.60 221.64 L143.60 221.69 L144.60 221.74 L145.60 221.78 L146.60 221.83 L147.60 221.88 L148.60 221.92 L149.60 221.97 L150.60 222.02 L151.59 222.06 L152.59 222.11 L153.59 222.15 L154.59 222.20 L155.59 222.24 L156.59 222.29 L157.59 222.33 L158.59 222.38 L159.59 222.42 L160.59 222.47 L161.58 222.51 L162.58 222.56 L163.58 222.60 L164.58 222.65 L165.58 222.69 L166.58 222.73 L167.58 222.78 L168.58 222.82 L169.58 222.86 L170.57 222.91 L171.57 222.95 L172.57 222.99 L173.57 223.03 L174.57 223.08 L175.57 223.12 L176.57 223.16 L177.57 223.20 L178.57 223.24 L179.57 223.29 L180.56 223.33 L181.56 223.37 L182.56 223.41 L183.56 223.45 L184.56 223.49 L185.56 223.53 L186.56 223.57 L187.56 223.61 L188.56 223.65 L189.56 223.69 L190.55 223.73 L191.55 223.76 L192.55 223.80 L193.55 223.84 L194.55 223.88 L195.55 223.92 L196.55 223.95 L197.55 223.99 L198.55 224.03 L199.55 224.06 L200.54 224.10 L201.54 224.14 L202.54 224.17 L203.54 224.21 L204.54 224.24 L205.54 224.28 L206.54 224.31 L207.54 224.35 L208.54 224.38 L209.53 224.42 L210.53 224.45 L211.53 224.49 L212.53 224.52 L213.53 224.55 L214.53 224.59 L215.53 224.62 L216.53 224.65 L217.53 224.68 L218.53 224.71 L219.52 224.75 L220.52 224.78 L221.52 224.81 L222.52 224.84 L223.52 224.87 L224.52 224.90 L225.52 224.93 L226.52 224.96 L227.52 224.99 L228.52 225.02 L229.51 225.05 L230.51 225.08 L231.51 225.11 L232.51 225.14 L233.51 225.16 L234.51 225.19 L235.51 225.22 L236.51 225.25 L237.51 225.28 L238.50 225.30 L239.50 225.33 L240.50 225.36 L241.50 225.39 L242.50 225.41 L243.50 225.44 L244.50 225.47 L245.50 225.49 L246.50 225.52 L247.50 225.55 L248.49 225.57 L249.49 225.60 L250.49 225.62 L251.49 225.65 L252.49 225.67 L253.49 225.70 L254.49 225.72 L255.49 225.75 L256.49 225.77 L257.49 225.80 L258.48 225.82 L259.48 225.85 L260.48 225.87 L261.48 225.90 L262.48 225.92 L263.48 225.95 L264.48 225.97 L265.48 225.99 L266.48 226.02 L267.47 226.04 L268.47 226.07 L269.47 226.09 L270.47 226.11 L271.47 226.14 L272.47 226.16 L273.47 226.18 L274.47 226.21 L275.47 226.23 L276.47 226.25 L277.46 226.28 L278.46 226.30 L279.46 226.32 L280.46 226.35 L281.46 226.37 L282.46 226.39 L283.46 226.42 L284.46 226.44 L285.46 226.46 L286.46 226.49 L287.45 226.51 L288.45 226.53 L289.45 226.55 L290.45 226.58 L291.45 226.60" fill="none" stroke="#000" stroke-width="1.35" stroke-linejoin="round" stroke-linecap="butt" stroke-dasharray="11 1.6 2.4 1.6"/>
<path d="M88.25 257.00 V144.40" stroke="#000" stroke-width="1.9"/>
<path d="M193.70 257.00 V157.80" stroke="#000" stroke-width="1.9"/>
<path d="M279.45 257.00 V166.40" stroke="#000" stroke-width="1.9"/>
<path d="M49.70 138.94 L50.70 139.09 L51.70 139.25 L52.70 139.40 L53.70 139.55 L54.69 139.70 L55.69 139.85 L56.69 140.00 L57.69 140.15 L58.69 140.30 L59.69 140.45 L60.69 140.60 L61.69 140.75 L62.69 140.89 L63.69 141.04 L64.68 141.19 L65.68 141.34 L66.68 141.48 L67.68 141.63 L68.68 141.78 L69.68 141.92 L70.68 142.07 L71.68 142.22 L72.68 142.36 L73.68 142.51 L74.67 142.65 L75.67 142.80 L76.67 142.94 L77.67 143.08 L78.67 143.23 L79.67 143.37 L80.67 143.51 L81.67 143.66 L82.67 143.80 L83.66 143.94 L84.66 144.08 L85.66 144.23 L86.66 144.37 L87.66 144.51 L88.66 144.65 L89.66 144.79 L90.66 144.93 L91.66 145.07 L92.66 145.21 L93.65 145.35 L94.65 145.49 L95.65 145.63 L96.65 145.77 L97.65 145.90 L98.65 146.04 L99.65 146.18 L100.65 146.32 L101.65 146.45 L102.65 146.59 L103.64 146.73 L104.64 146.86 L105.64 147.00 L106.64 147.13 L107.64 147.27 L108.64 147.41 L109.64 147.54 L110.64 147.67 L111.64 147.81 L112.63 147.94 L113.63 148.08 L114.63 148.21 L115.63 148.34 L116.63 148.48 L117.63 148.61 L118.63 148.74 L119.63 148.87 L120.63 149.00 L121.63 149.14 L122.62 149.27 L123.62 149.40 L124.62 149.53 L125.62 149.66 L126.62 149.79 L127.62 149.92 L128.62 150.05 L129.62 150.18 L130.62 150.31 L131.62 150.43 L132.61 150.56 L133.61 150.69 L134.61 150.82 L135.61 150.95 L136.61 151.07 L137.61 151.20 L138.61 151.33 L139.61 151.45 L140.61 151.58 L141.60 151.71 L142.60 151.83 L143.60 151.96 L144.60 152.08 L145.60 152.21 L146.60 152.33 L147.60 152.46 L148.60 152.58 L149.60 152.70 L150.60 152.83 L151.59 152.95 L152.59 153.07 L153.59 153.20 L154.59 153.32 L155.59 153.44 L156.59 153.56 L157.59 153.68 L158.59 153.80 L159.59 153.93 L160.59 154.05 L161.58 154.17 L162.58 154.29 L163.58 154.41 L164.58 154.53 L165.58 154.65 L166.58 154.76 L167.58 154.88 L168.58 155.00 L169.58 155.12 L170.57 155.24 L171.57 155.36 L172.57 155.47 L173.57 155.59 L174.57 155.71 L175.57 155.82 L176.57 155.94 L177.57 156.06 L178.57 156.17 L179.57 156.29 L180.56 156.40 L181.56 156.52 L182.56 156.63 L183.56 156.75 L184.56 156.86 L185.56 156.98 L186.56 157.09 L187.56 157.20 L188.56 157.32 L189.56 157.43 L190.55 157.54 L191.55 157.65 L192.55 157.77 L193.55 157.88 L194.55 157.99 L195.55 158.10 L196.55 158.21 L197.55 158.32 L198.55 158.43 L199.55 158.54 L200.54 158.65 L201.54 158.76 L202.54 158.87 L203.54 158.98 L204.54 159.09 L205.54 159.20 L206.54 159.31 L207.54 159.42 L208.54 159.53 L209.53 159.63 L210.53 159.74 L211.53 159.85 L212.53 159.96 L213.53 160.06 L214.53 160.17 L215.53 160.27 L216.53 160.38 L217.53 160.49 L218.53 160.59 L219.52 160.70 L220.52 160.80 L221.52 160.91 L222.52 161.01 L223.52 161.11 L224.52 161.22 L225.52 161.32 L226.52 161.43 L227.52 161.53 L228.52 161.63 L229.51 161.73 L230.51 161.84 L231.51 161.94 L232.51 162.04 L233.51 162.14 L234.51 162.24 L235.51 162.34 L236.51 162.45 L237.51 162.55 L238.50 162.65 L239.50 162.75 L240.50 162.85 L241.50 162.95 L242.50 163.05 L243.50 163.14 L244.50 163.24 L245.50 163.34 L246.50 163.44 L247.50 163.54 L248.49 163.64 L249.49 163.73 L250.49 163.83 L251.49 163.93 L252.49 164.03 L253.49 164.12 L254.49 164.22 L255.49 164.31 L256.49 164.41 L257.49 164.51 L258.48 164.60 L259.48 164.70 L260.48 164.79 L261.48 164.89 L262.48 164.98 L263.48 165.07 L264.48 165.17 L265.48 165.26 L266.48 165.36 L267.47 165.45 L268.47 165.54 L269.47 165.63 L270.47 165.73 L271.47 165.82 L272.47 165.91 L273.47 166.00 L274.47 166.09 L275.47 166.18 L276.47 166.28 L277.46 166.37 L278.46 166.46 L279.46 166.55 L280.46 166.64 L281.46 166.73 L282.46 166.82 L283.46 166.91 L284.46 166.99 L285.46 167.08 L286.46 167.17 L287.45 167.26 L288.45 167.35 L289.45 167.44 L290.45 167.52 L291.45 167.61" fill="none" stroke="#1a1aff" stroke-width="1.5" stroke-linejoin="round" stroke-linecap="butt"/>
<rect x="49.70" y="8.10" width="241.75" height="248.90" fill="none" stroke="#000" stroke-width="1.5"/>
</g>
<g id="right">
<path d="M357.23 257.00 v-3.60 M357.23 8.10 v3.60" stroke="#000" stroke-width="1.1"/>
<path d="M363.85 257.00 v-3.60 M363.85 8.10 v3.60" stroke="#000" stroke-width="1.1"/>
<path d="M370.48 257.00 v-6.50 M370.48 8.10 v6.50" stroke="#000" stroke-width="1.3"/>
<path d="M377.11 257.00 v-3.60 M377.11 8.10 v3.60" stroke="#000" stroke-width="1.1"/>
<path d="M383.73 257.00 v-3.60 M383.73 8.10 v3.60" stroke="#000" stroke-width="1.1"/>
<path d="M390.36 257.00 v-3.60 M390.36 8.10 v3.60" stroke="#000" stroke-width="1.1"/>
<path d="M396.98 257.00 v-3.60 M396.98 8.10 v3.60" stroke="#000" stroke-width="1.1"/>
<path d="M403.61 257.00 v-6.50 M403.61 8.10 v6.50" stroke="#000" stroke-width="1.3"/>
<path d="M410.24 257.00 v-3.60 M410.24 8.10 v3.60" stroke="#000" stroke-width="1.1"/>
<path d="M416.86 257.00 v-3.60 M416.86 8.10 v3.60" stroke="#000" stroke-width="1.1"/>
<path d="M423.49 257.00 v-3.60 M423.49 8.10 v3.60" stroke="#000" stroke-width="1.1"/>
<path d="M430.11 257.00 v-3.60 M430.11 8.10 v3.60" stroke="#000" stroke-width="1.1"/>
<path d="M436.74 257.00 v-6.50 M436.74 8.10 v6.50" stroke="#000" stroke-width="1.3"/>
<path d="M443.37 257.00 v-3.60 M443.37 8.10 v3.60" stroke="#000" stroke-width="1.1"/>
<path d="M449.99 257.00 v-3.60 M449.99 8.10 v3.60" stroke="#000" stroke-width="1.1"/>
<path d="M456.62 257.00 v-3.60 M456.62 8.10 v3.60" stroke="#000" stroke-width="1.1"/>
<path d="M463.24 257.00 v-3.60 M463.24 8.10 v3.60" stroke="#000" stroke-width="1.1"/>
<path d="M469.87 257.00 v-6.50 M469.87 8.10 v6.50" stroke="#000" stroke-width="1.3"/>
<path d="M476.50 257.00 v-3.60 M476.50 8.10 v3.60" stroke="#000" stroke-width="1.1"/>
<path d="M483.12 257.00 v-3.60 M483.12 8.10 v3.60" stroke="#000" stroke-width="1.1"/>
<path d="M489.75 257.00 v-3.60 M489.75 8.10 v3.60" stroke="#000" stroke-width="1.1"/>
<path d="M496.37 257.00 v-3.60 M496.37 8.10 v3.60" stroke="#000" stroke-width="1.1"/>
<path d="M503.00 257.00 v-6.50 M503.00 8.10 v6.50" stroke="#000" stroke-width="1.3"/>
<path d="M509.63 257.00 v-3.60 M509.63 8.10 v3.60" stroke="#000" stroke-width="1.1"/>
<path d="M516.25 257.00 v-3.60 M516.25 8.10 v3.60" stroke="#000" stroke-width="1.1"/>
<path d="M522.88 257.00 v-3.60 M522.88 8.10 v3.60" stroke="#000" stroke-width="1.1"/>
<path d="M529.50 257.00 v-3.60 M529.50 8.10 v3.60" stroke="#000" stroke-width="1.1"/>
<path d="M536.13 257.00 v-6.50 M536.13 8.10 v6.50" stroke="#000" stroke-width="1.3"/>
<path d="M542.76 257.00 v-3.60 M542.76 8.10 v3.60" stroke="#000" stroke-width="1.1"/>
<path d="M549.38 257.00 v-3.60 M549.38 8.10 v3.60" stroke="#000" stroke-width="1.1"/>
<path d="M556.01 257.00 v-3.60 M556.01 8.10 v3.60" stroke="#000" stroke-width="1.1"/>
<path d="M562.63 257.00 v-3.60 M562.63 8.10 v3.60" stroke="#000" stroke-width="1.1"/>
<path d="M569.26 257.00 v-6.50 M569.26 8.10 v6.50" stroke="#000" stroke-width="1.3"/>
<path d="M575.89 257.00 v-3.60 M575.89 8.10 v3.60" stroke="#000" stroke-width="1.1"/>
<path d="M582.51 257.00 v-3.60 M582.51 8.10 v3.60" stroke="#000" stroke-width="1.1"/>
<path d="M589.14 257.00 v-3.60 M589.14 8.10 v3.60" stroke="#000" stroke-width="1.1"/>
<path d="M352.25 242.79 h3.60 M594.00 242.79 h-3.60" stroke="#000" stroke-width="1.1"/>
<path d="M352.25 228.58 h3.60 M594.00 228.58 h-3.60" stroke="#000" stroke-width="1.1"/>
<path d="M352.25 214.36 h3.60 M594.00 214.36 h-3.60" stroke="#000" stroke-width="1.1"/>
<path d="M352.25 200.15 h3.60 M594.00 200.15 h-3.60" stroke="#000" stroke-width="1.1"/>
<path d="M352.25 185.94 h6.50 M594.00 185.94 h-6.50" stroke="#000" stroke-width="1.3"/>
<path d="M352.25 171.73 h3.60 M594.00 171.73 h-3.60" stroke="#000" stroke-width="1.1"/>
<path d="M352.25 157.52 h3.60 M594.00 157.52 h-3.60" stroke="#000" stroke-width="1.1"/>
<path d="M352.25 143.30 h3.60 M594.00 143.30 h-3.60" stroke="#000" stroke-width="1.1"/>
<path d="M352.25 129.09 h3.60 M594.00 129.09 h-3.60" stroke="#000" stroke-width="1.1"/>
<path d="M352.25 114.88 h6.50 M594.00 114.88 h-6.50" stroke="#000" stroke-width="1.3"/>
<path d="M352.25 100.67 h3.60 M594.00 100.67 h-3.60" stroke="#000" stroke-width="1.1"/>
<path d="M352.25 86.46 h3.60 M594.00 86.46 h-3.60" stroke="#000" stroke-width="1.1"/>
<path d="M352.25 72.24 h3.60 M594.00 72.24 h-3.60" stroke="#000" stroke-width="1.1"/>
<path d="M352.25 58.03 h3.60 M594.00 58.03 h-3.60" stroke="#000" stroke-width="1.1"/>
<path d="M352.25 43.82 h6.50 M594.00 43.82 h-6.50" stroke="#000" stroke-width="1.3"/>
<path d="M352.25 29.61 h3.60 M594.00 29.61 h-3.60" stroke="#000" stroke-width="1.1"/>
<path d="M352.25 15.40 h3.60 M594.00 15.40 h-3.60" stroke="#000" stroke-width="1.1"/>
<path d="M352.25 108.90 L353.25 109.79 L354.25 110.68 L355.25 111.55 L356.25 112.42 L357.24 113.27 L358.24 114.12 L359.24 114.96 L360.24 115.79 L361.24 116.60 L362.24 117.41 L363.24 118.21 L364.24 119.00 L365.24 119.79 L366.24 120.56 L367.23 121.32 L368.23 122.07 L369.23 122.82 L370.23 123.56 L371.23 124.28 L372.23 125.00 L373.23 125.71 L374.23 126.41 L375.23 127.11 L376.23 127.79 L377.22 128.46 L378.22 129.13 L379.22 129.79 L380.22 130.44 L381.22 131.08 L382.22 131.71 L383.22 132.34 L384.22 132.96 L385.22 133.56 L386.21 134.16 L387.21 134.76 L388.21 135.34 L389.21 135.92 L390.21 136.49 L391.21 137.05 L392.21 137.60 L393.21 138.15 L394.21 138.69 L395.21 139.22 L396.20 139.74 L397.20 140.25 L398.20 140.76 L399.20 141.26 L400.20 141.76 L401.20 142.24 L402.20 142.72 L403.20 143.19 L404.20 143.66 L405.20 144.11 L406.19 144.56 L407.19 145.01 L408.19 145.44 L409.19 145.87 L410.19 146.30 L411.19 146.71 L412.19 147.12 L413.19 147.52 L414.19 147.92 L415.18 148.31 L416.18 148.69 L417.18 149.07 L418.18 149.44 L419.18 149.81 L420.18 150.16 L421.18 150.51 L422.18 150.86 L423.18 151.20 L424.18 151.53 L425.17 151.86 L426.17 152.18 L427.17 152.50 L428.17 152.81 L429.17 153.11 L430.17 153.41 L431.17 153.70 L432.17 153.99 L433.17 154.27 L434.17 154.54 L435.16 154.81 L436.16 155.08 L437.16 155.34 L438.16 155.59 L439.16 155.84 L440.16 156.09 L441.16 156.32 L442.16 156.56 L443.16 156.79 L444.15 157.01 L445.15 157.23 L446.15 157.44 L447.15 157.65 L448.15 157.86 L449.15 158.05 L450.15 158.25 L451.15 158.44 L452.15 158.62 L453.15 158.81 L454.14 158.98 L455.14 159.15 L456.14 159.32 L457.14 159.49 L458.14 159.65 L459.14 159.80 L460.14 159.95 L461.14 160.10 L462.14 160.24 L463.14 160.38 L464.13 160.51 L465.13 160.65 L466.13 160.77 L467.13 160.90 L468.13 161.02 L469.13 161.13 L470.13 161.25 L471.13 161.35 L472.13 161.46 L473.12 161.56 L474.12 161.66 L475.12 161.76 L476.12 161.85 L477.12 161.94 L478.12 162.02 L479.12 162.11 L480.12 162.18 L481.12 162.26 L482.12 162.33 L483.11 162.41 L484.11 162.47 L485.11 162.54 L486.11 162.60 L487.11 162.66 L488.11 162.72 L489.11 162.77 L490.11 162.82 L491.11 162.87 L492.11 162.92 L493.10 162.96 L494.10 163.01 L495.10 163.05 L496.10 163.08 L497.10 163.12 L498.10 163.15 L499.10 163.18 L500.10 163.21 L501.10 163.24 L502.10 163.27 L503.09 163.29 L504.09 163.31 L505.09 163.33 L506.09 163.35 L507.09 163.37 L508.09 163.38 L509.09 163.40 L510.09 163.41 L511.09 163.42 L512.08 163.43 L513.08 163.44 L514.08 163.44 L515.08 163.45 L516.08 163.45 L517.08 163.46 L518.08 163.46 L519.08 163.46 L520.08 163.46 L521.08 163.46 L522.07 163.46 L523.07 163.46 L524.07 163.46 L525.07 163.45 L526.07 163.45 L527.07 163.44 L528.07 163.44 L529.07 163.43 L530.07 163.43 L531.07 163.42 L532.06 163.41 L533.06 163.41 L534.06 163.40 L535.06 163.39 L536.06 163.39 L537.06 163.38 L538.06 163.37 L539.06 163.36 L540.06 163.36 L541.05 163.35 L542.05 163.34 L543.05 163.34 L544.05 163.33 L545.05 163.33 L546.05 163.32 L547.05 163.32 L548.05 163.31 L549.05 163.31 L550.05 163.31 L551.04 163.30 L552.04 163.30 L553.04 163.30 L554.04 163.30 L555.04 163.30 L556.04 163.31 L557.04 163.31 L558.04 163.31 L559.04 163.32 L560.04 163.32 L561.03 163.33 L562.03 163.34 L563.03 163.35 L564.03 163.36 L565.03 163.38 L566.03 163.39 L567.03 163.41 L568.03 163.43 L569.03 163.45 L570.02 163.47 L571.02 163.49 L572.02 163.52 L573.02 163.55 L574.02 163.57 L575.02 163.61 L576.02 163.64 L577.02 163.67 L578.02 163.71 L579.02 163.75 L580.01 163.79 L581.01 163.84 L582.01 163.88 L583.01 163.93 L584.01 163.98 L585.01 164.04 L586.01 164.09 L587.01 164.15 L588.01 164.21 L589.01 164.28 L590.00 164.35 L591.00 164.42 L592.00 164.49 L593.00 164.57 L594.00 164.64 L594.00 257.00 L352.25 257.00 Z" fill="#b7b7b7" fill-opacity="0.61" stroke="none"/>
<path d="M352.25 235.90 L353.25 235.92 L354.25 235.95 L355.25 235.97 L356.25 236.00 L357.24 236.02 L358.24 236.05 L359.24 236.07 L360.24 236.10 L361.24 236.12 L362.24 236.15 L363.24 236.17 L364.24 236.19 L365.24 236.22 L366.24 236.24 L367.23 236.26 L368.23 236.29 L369.23 236.31 L370.23 236.33 L371.23 236.36 L372.23 236.38 L373.23 236.40 L374.23 236.42 L375.23 236.44 L376.23 236.47 L377.22 236.49 L378.22 236.51 L379.22 236.53 L380.22 236.55 L381.22 236.57 L382.22 236.59 L383.22 236.61 L384.22 236.63 L385.22 236.64 L386.21 236.66 L387.21 236.68 L388.21 236.70 L389.21 236.71 L390.21 236.73 L391.21 236.74 L392.21 236.76 L393.21 236.77 L394.21 236.79 L395.21 236.80 L396.20 236.82 L397.20 236.83 L398.20 236.84 L399.20 236.85 L400.20 236.86 L401.20 236.88 L402.20 236.89 L403.20 236.90 L404.20 236.91 L405.20 236.91 L406.19 236.92 L407.19 236.93 L408.19 236.94 L409.19 236.95 L410.19 236.96 L411.19 236.97 L412.19 236.97 L413.19 236.98 L414.19 236.99 L415.18 237.00 L416.18 237.00 L417.18 237.01 L418.18 237.02 L419.18 237.02 L420.18 237.03 L421.18 237.04 L422.18 237.04 L423.18 237.05 L424.18 237.06 L425.17 237.06 L426.17 237.07 L427.17 237.08 L428.17 237.09 L429.17 237.09 L430.17 237.10 L431.17 237.11 L432.17 237.12 L433.17 237.13 L434.17 237.13 L435.16 237.14 L436.16 237.15 L437.16 237.16 L438.16 237.17 L439.16 237.18 L440.16 237.19 L441.16 237.20 L442.16 237.21 L443.16 237.22 L444.15 237.23 L445.15 237.24 L446.15 237.25 L447.15 237.26 L448.15 237.27 L449.15 237.28 L450.15 237.29 L451.15 237.30 L452.15 237.31 L453.15 237.32 L454.14 237.33 L455.14 237.34 L456.14 237.35 L457.14 237.36 L458.14 237.37 L459.14 237.39 L460.14 237.40 L461.14 237.41 L462.14 237.42 L463.14 237.43 L464.13 237.44 L465.13 237.45 L466.13 237.47 L467.13 237.48 L468.13 237.49 L469.13 237.50 L470.13 237.51 L471.13 237.52 L472.13 237.54 L473.12 237.55 L474.12 237.56 L475.12 237.57 L476.12 237.58 L477.12 237.59 L478.12 237.61 L479.12 237.62 L480.12 237.63 L481.12 237.64 L482.12 237.65 L483.11 237.66 L484.11 237.68 L485.11 237.69 L486.11 237.70 L487.11 237.71 L488.11 237.72 L489.11 237.73 L490.11 237.74 L491.11 237.76 L492.11 237.77 L493.10 237.78 L494.10 237.79 L495.10 237.80 L496.10 237.81 L497.10 237.82 L498.10 237.83 L499.10 237.84 L500.10 237.85 L501.10 237.86 L502.10 237.87 L503.09 237.88 L504.09 237.89 L505.09 237.90 L506.09 237.91 L507.09 237.92 L508.09 237.93 L509.09 237.94 L510.09 237.95 L511.09 237.96 L512.08 237.96 L513.08 237.97 L514.08 237.98 L515.08 237.99 L516.08 238.00 L517.08 238.01 L518.08 238.01 L519.08 238.02 L520.08 238.03 L521.08 238.04 L522.07 238.05 L523.07 238.05 L524.07 238.06 L525.07 238.07 L526.07 238.08 L527.07 238.08 L528.07 238.09 L529.07 238.10 L530.07 238.10 L531.07 238.11 L532.06 238.12 L533.06 238.12 L534.06 238.13 L535.06 238.14 L536.06 238.14 L537.06 238.15 L538.06 238.15 L539.06 238.16 L540.06 238.17 L541.05 238.17 L542.05 238.18 L543.05 238.18 L544.05 238.19 L545.05 238.19 L546.05 238.20 L547.05 238.20 L548.05 238.21 L549.05 238.21 L550.05 238.22 L551.04 238.22 L552.04 238.23 L553.04 238.23 L554.04 238.24 L555.04 238.24 L556.04 238.25 L557.04 238.25 L558.04 238.26 L559.04 238.26 L560.04 238.27 L561.03 238.27 L562.03 238.28 L563.03 238.28 L564.03 238.28 L565.03 238.29 L566.03 238.29 L567.03 238.30 L568.03 238.30 L569.03 238.31 L570.02 238.31 L571.02 238.31 L572.02 238.32 L573.02 238.32 L574.02 238.33 L575.02 238.33 L576.02 238.33 L577.02 238.34 L578.02 238.34 L579.02 238.34 L580.01 238.35 L581.01 238.35 L582.01 238.36 L583.01 238.36 L584.01 238.36 L585.01 238.37 L586.01 238.37 L587.01 238.37 L588.01 238.38 L589.01 238.38 L590.00 238.39 L591.00 238.39 L592.00 238.39 L593.00 238.40 L594.00 238.40" fill="none" stroke="#000" stroke-width="1.25" stroke-linejoin="round" stroke-linecap="butt" stroke-dasharray="1.5 1.7"/>
<path d="M352.25 231.57 L353.25 231.62 L354.25 231.66 L355.25 231.71 L356.25 231.75 L357.24 231.79 L358.24 231.84 L359.24 231.88 L360.24 231.92 L361.24 231.97 L362.24 232.01 L363.24 232.05 L364.24 232.09 L365.24 232.13 L366.24 232.17 L367.23 232.21 L368.23 232.26 L369.23 232.30 L370.23 232.34 L371.23 232.38 L372.23 232.41 L373.23 232.45 L374.23 232.49 L375.23 232.53 L376.23 232.57 L377.22 232.61 L378.22 232.64 L379.22 232.68 L380.22 232.72 L381.22 232.76 L382.22 232.79 L383.22 232.83 L384.22 232.87 L385.22 232.90 L386.21 232.94 L387.21 232.97 L388.21 233.01 L389.21 233.04 L390.21 233.08 L391.21 233.11 L392.21 233.14 L393.21 233.18 L394.21 233.21 L395.21 233.25 L396.20 233.28 L397.20 233.31 L398.20 233.34 L399.20 233.38 L400.20 233.41 L401.20 233.44 L402.20 233.47 L403.20 233.50 L404.20 233.53 L405.20 233.56 L406.19 233.59 L407.19 233.62 L408.19 233.65 L409.19 233.68 L410.19 233.71 L411.19 233.74 L412.19 233.77 L413.19 233.80 L414.19 233.83 L415.18 233.86 L416.18 233.89 L417.18 233.91 L418.18 233.94 L419.18 233.97 L420.18 234.00 L421.18 234.02 L422.18 234.05 L423.18 234.08 L424.18 234.10 L425.17 234.13 L426.17 234.15 L427.17 234.18 L428.17 234.20 L429.17 234.23 L430.17 234.25 L431.17 234.28 L432.17 234.30 L433.17 234.33 L434.17 234.35 L435.16 234.38 L436.16 234.40 L437.16 234.42 L438.16 234.45 L439.16 234.47 L440.16 234.49 L441.16 234.51 L442.16 234.54 L443.16 234.56 L444.15 234.58 L445.15 234.60 L446.15 234.62 L447.15 234.65 L448.15 234.67 L449.15 234.69 L450.15 234.71 L451.15 234.73 L452.15 234.75 L453.15 234.77 L454.14 234.79 L455.14 234.81 L456.14 234.83 L457.14 234.85 L458.14 234.87 L459.14 234.89 L460.14 234.91 L461.14 234.92 L462.14 234.94 L463.14 234.96 L464.13 234.98 L465.13 235.00 L466.13 235.02 L467.13 235.03 L468.13 235.05 L469.13 235.07 L470.13 235.08 L471.13 235.10 L472.13 235.12 L473.12 235.13 L474.12 235.15 L475.12 235.17 L476.12 235.18 L477.12 235.20 L478.12 235.21 L479.12 235.23 L480.12 235.25 L481.12 235.26 L482.12 235.28 L483.11 235.29 L484.11 235.31 L485.11 235.32 L486.11 235.33 L487.11 235.35 L488.11 235.36 L489.11 235.38 L490.11 235.39 L491.11 235.40 L492.11 235.42 L493.10 235.43 L494.10 235.44 L495.10 235.46 L496.10 235.47 L497.10 235.48 L498.10 235.50 L499.10 235.51 L500.10 235.52 L501.10 235.53 L502.10 235.54 L503.09 235.56 L504.09 235.57 L505.09 235.58 L506.09 235.59 L507.09 235.60 L508.09 235.61 L509.09 235.63 L510.09 235.64 L511.09 235.65 L512.08 235.66 L513.08 235.67 L514.08 235.68 L515.08 235.69 L516.08 235.70 L517.08 235.71 L518.08 235.72 L519.08 235.73 L520.08 235.74 L521.08 235.75 L522.07 235.76 L523.07 235.77 L524.07 235.78 L525.07 235.79 L526.07 235.79 L527.07 235.80 L528.07 235.81 L529.07 235.82 L530.07 235.83 L531.07 235.84 L532.06 235.85 L533.06 235.85 L534.06 235.86 L535.06 235.87 L536.06 235.88 L537.06 235.89 L538.06 235.89 L539.06 235.90 L540.06 235.91 L541.05 235.92 L542.05 235.92 L543.05 235.93 L544.05 235.94 L545.05 235.94 L546.05 235.95 L547.05 235.96 L548.05 235.97 L549.05 235.97 L550.05 235.98 L551.04 235.98 L552.04 235.99 L553.04 236.00 L554.04 236.00 L555.04 236.01 L556.04 236.02 L557.04 236.02 L558.04 236.03 L559.04 236.03 L560.04 236.04 L561.03 236.05 L562.03 236.05 L563.03 236.06 L564.03 236.06 L565.03 236.07 L566.03 236.07 L567.03 236.08 L568.03 236.08 L569.03 236.09 L570.02 236.09 L571.02 236.10 L572.02 236.10 L573.02 236.11 L574.02 236.11 L575.02 236.12 L576.02 236.12 L577.02 236.13 L578.02 236.13 L579.02 236.13 L580.01 236.14 L581.01 236.14 L582.01 236.15 L583.01 236.15 L584.01 236.16 L585.01 236.16 L586.01 236.16 L587.01 236.17 L588.01 236.17 L589.01 236.18 L590.00 236.18 L591.00 236.18 L592.00 236.19 L593.00 236.19 L594.00 236.20" fill="none" stroke="#000" stroke-width="1.35" stroke-linejoin="round" stroke-linecap="butt" stroke-dasharray="11 1.6 2.4 1.6"/>
<path d="M352.25 235.60 L353.25 235.60 L354.25 235.60 L355.25 235.59 L356.25 235.59 L357.24 235.59 L358.24 235.59 L359.24 235.59 L360.24 235.58 L361.24 235.58 L362.24 235.58 L363.24 235.58 L364.24 235.58 L365.24 235.57 L366.24 235.57 L367.23 235.57 L368.23 235.57 L369.23 235.57 L370.23 235.56 L371.23 235.56 L372.23 235.56 L373.23 235.56 L374.23 235.56 L375.23 235.55 L376.23 235.55 L377.22 235.55 L378.22 235.55 L379.22 235.55 L380.22 235.54 L381.22 235.54 L382.22 235.54 L383.22 235.54 L384.22 235.53 L385.22 235.53 L386.21 235.53 L387.21 235.53 L388.21 235.53 L389.21 235.52 L390.21 235.52 L391.21 235.52 L392.21 235.52 L393.21 235.51 L394.21 235.51 L395.21 235.51 L396.20 235.51 L397.20 235.51 L398.20 235.50 L399.20 235.50 L400.20 235.50 L401.20 235.50 L402.20 235.49 L403.20 235.49 L404.20 235.49 L405.20 235.49 L406.19 235.48 L407.19 235.48 L408.19 235.48 L409.19 235.47 L410.19 235.47 L411.19 235.47 L412.19 235.47 L413.19 235.46 L414.19 235.46 L415.18 235.46 L416.18 235.46 L417.18 235.45 L418.18 235.45 L419.18 235.45 L420.18 235.44 L421.18 235.44 L422.18 235.44 L423.18 235.44 L424.18 235.43 L425.17 235.43 L426.17 235.43 L427.17 235.42 L428.17 235.42 L429.17 235.42 L430.17 235.41 L431.17 235.41 L432.17 235.41 L433.17 235.40 L434.17 235.40 L435.16 235.40 L436.16 235.39 L437.16 235.39 L438.16 235.39 L439.16 235.38 L440.16 235.38 L441.16 235.38 L442.16 235.37 L443.16 235.37 L444.15 235.36 L445.15 235.36 L446.15 235.36 L447.15 235.35 L448.15 235.35 L449.15 235.35 L450.15 235.34 L451.15 235.34 L452.15 235.33 L453.15 235.33 L454.14 235.33 L455.14 235.32 L456.14 235.32 L457.14 235.31 L458.14 235.31 L459.14 235.30 L460.14 235.30 L461.14 235.29 L462.14 235.29 L463.14 235.29 L464.13 235.28 L465.13 235.28 L466.13 235.27 L467.13 235.27 L468.13 235.26 L469.13 235.26 L470.13 235.25 L471.13 235.25 L472.13 235.24 L473.12 235.24 L474.12 235.23 L475.12 235.23 L476.12 235.22 L477.12 235.22 L478.12 235.21 L479.12 235.21 L480.12 235.20 L481.12 235.19 L482.12 235.19 L483.11 235.18 L484.11 235.18 L485.11 235.17 L486.11 235.16 L487.11 235.16 L488.11 235.15 L489.11 235.15 L490.11 235.14 L491.11 235.13 L492.11 235.13 L493.10 235.12 L494.10 235.11 L495.10 235.11 L496.10 235.10 L497.10 235.09 L498.10 235.09 L499.10 235.08 L500.10 235.07 L501.10 235.06 L502.10 235.06 L503.09 235.05 L504.09 235.04 L505.09 235.03 L506.09 235.02 L507.09 235.02 L508.09 235.01 L509.09 235.00 L510.09 234.99 L511.09 234.98 L512.08 234.97 L513.08 234.96 L514.08 234.96 L515.08 234.95 L516.08 234.94 L517.08 234.93 L518.08 234.92 L519.08 234.91 L520.08 234.90 L521.08 234.89 L522.07 234.88 L523.07 234.87 L524.07 234.86 L525.07 234.85 L526.07 234.84 L527.07 234.83 L528.07 234.82 L529.07 234.81 L530.07 234.80 L531.07 234.79 L532.06 234.78 L533.06 234.77 L534.06 234.76 L535.06 234.74 L536.06 234.73 L537.06 234.72 L538.06 234.71 L539.06 234.70 L540.06 234.69 L541.05 234.68 L542.05 234.67 L543.05 234.65 L544.05 234.64 L545.05 234.63 L546.05 234.62 L547.05 234.61 L548.05 234.59 L549.05 234.58 L550.05 234.57 L551.04 234.56 L552.04 234.55 L553.04 234.53 L554.04 234.52 L555.04 234.51 L556.04 234.50 L557.04 234.48 L558.04 234.47 L559.04 234.46 L560.04 234.45 L561.03 234.43 L562.03 234.42 L563.03 234.41 L564.03 234.40 L565.03 234.38 L566.03 234.37 L567.03 234.36 L568.03 234.34 L569.03 234.33 L570.02 234.32 L571.02 234.31 L572.02 234.29 L573.02 234.28 L574.02 234.27 L575.02 234.25 L576.02 234.24 L577.02 234.23 L578.02 234.21 L579.02 234.20 L580.01 234.19 L581.01 234.17 L582.01 234.16 L583.01 234.15 L584.01 234.13 L585.01 234.12 L586.01 234.11 L587.01 234.09 L588.01 234.08 L589.01 234.07 L590.00 234.05 L591.00 234.04 L592.00 234.03 L593.00 234.01 L594.00 234.00" fill="none" stroke="#ff2a2a" stroke-width="1.45" stroke-linejoin="round" stroke-linecap="butt"/>
<path d="M352.25 184.11 L353.25 186.59 L354.25 189.05 L355.25 191.50 L356.25 193.93 L357.24 196.33 L358.24 198.72 L359.24 201.10 L360.24 203.45 L361.24 205.78 L362.24 208.10 L363.24 210.40 L364.24 212.68 L365.24 214.94 L366.24 217.18 L367.23 219.41 L368.23 221.61 L369.23 223.80 L370.23 225.97 L371.23 228.12 L372.23 230.25 L373.23 232.36 L374.23 234.45 L375.23 236.53 L376.23 238.58 L377.22 240.62 L378.22 242.64 L379.22 244.64 L380.22 246.62 L381.22 248.59 L382.22 250.53 L383.22 252.45 L384.22 254.36 L385.22 256.25 L385.62 257.00 L386.21 255.88 L387.21 254.04 L388.21 252.21 L389.21 250.39 L390.21 248.60 L391.21 246.83 L392.21 245.07 L393.21 243.34 L394.21 241.62 L395.21 239.93 L396.20 238.25 L397.20 236.59 L398.20 234.95 L399.20 233.33 L400.20 231.73 L401.20 230.15 L402.20 228.59 L403.20 227.04 L404.20 225.52 L405.20 224.01 L406.19 222.53 L407.19 221.06 L408.19 219.62 L409.19 218.19 L410.19 216.78 L411.19 215.39 L412.19 214.03 L413.19 212.68 L414.19 211.35 L415.18 210.04 L416.18 208.75 L417.18 207.48 L418.18 206.23 L419.18 204.99 L420.18 203.78 L421.18 202.59 L422.18 201.42 L423.18 200.26 L424.18 199.13 L425.17 198.02 L426.17 196.92 L427.17 195.85 L428.17 194.80 L429.17 193.76 L430.17 192.75 L431.17 191.75 L432.17 190.78 L433.17 189.82 L434.17 188.89 L435.16 187.98 L436.16 187.08 L437.16 186.21 L438.16 185.35 L439.16 184.52 L440.16 183.70 L441.16 182.91 L442.16 182.14 L443.16 181.38 L444.15 180.65 L445.15 179.93 L446.15 179.24 L447.15 178.57 L448.15 177.91 L449.15 177.28 L450.15 176.67 L451.15 176.08 L452.15 175.51 L453.15 174.95 L454.14 174.42 L455.14 173.91 L456.14 173.42 L457.14 172.95 L458.14 172.50 L459.14 172.07 L460.14 171.67 L461.14 171.28 L462.14 170.91 L463.14 170.57 L464.13 170.24 L465.13 169.93 L466.13 169.65 L467.13 169.39 L468.13 169.14 L469.13 168.92 L470.13 168.72 L471.13 168.54 L472.13 168.38 L473.12 168.24 L474.12 168.12 L475.12 168.03 L476.12 167.95 L477.12 167.90 L478.12 167.87 L479.12 167.86 L480.12 167.87 L481.12 167.91 L482.12 167.96 L483.11 168.04 L484.11 168.14 L485.11 168.26 L486.11 168.40 L487.11 168.57 L488.11 168.76 L489.11 168.97 L490.11 169.20 L491.11 169.46 L492.11 169.73 L493.10 170.03 L494.10 170.36 L495.10 170.70 L496.10 171.07 L497.10 171.46 L498.10 171.88 L499.10 172.31 L500.10 172.78 L501.10 173.26 L502.10 173.77 L503.09 174.30 L504.09 174.85 L505.09 175.43 L506.09 176.03 L507.09 176.65 L508.09 177.30 L509.09 177.98 L510.09 178.67 L511.09 179.39 L512.08 180.14 L513.08 180.90 L514.08 181.70 L515.08 182.51 L516.08 183.35 L517.08 184.22 L518.08 185.11 L519.08 186.02 L520.08 186.96 L521.08 187.92 L522.07 188.91 L523.07 189.92 L524.07 190.96 L525.07 192.03 L526.07 193.11 L527.07 194.23 L528.07 195.36 L529.07 196.53 L530.07 197.72 L531.07 198.93 L532.06 200.17 L533.06 201.43 L534.06 202.72 L535.06 204.03 L536.06 205.37 L537.06 206.73 L538.06 208.12 L539.06 209.53 L540.06 210.97 L541.05 212.43 L542.05 213.92 L543.05 215.43 L544.05 216.96 L545.05 218.53 L546.05 220.11 L547.05 221.72 L548.05 223.36 L549.05 225.02 L550.05 226.70 L551.04 228.41 L552.04 230.14 L553.04 231.90 L554.04 233.68 L555.04 235.49 L556.04 237.32 L557.04 239.18 L558.04 241.06 L559.04 242.96 L560.04 244.89 L561.03 246.85 L562.03 248.83 L563.03 250.83 L564.03 252.85 L565.03 254.91 L566.03 256.98 L566.04 257.00 L567.03 254.92 L568.03 252.80 L569.03 250.65 L570.02 248.47 L571.02 246.28 L572.02 244.06 L573.02 241.81 L574.02 239.54 L575.02 237.25 L576.02 234.93 L577.02 232.59 L578.02 230.23 L579.02 227.84 L580.01 225.43 L581.01 222.99 L582.01 220.53 L583.01 218.04 L584.01 215.53 L585.01 213.00 L586.01 210.44 L587.01 207.86 L588.01 205.26 L589.01 202.63 L590.00 199.98 L591.00 197.30 L592.00 194.61 L593.00 191.88 L594.00 189.14" fill="none" stroke="#ffa51a" stroke-width="1.38" stroke-linejoin="round" stroke-linecap="butt"/>
<path d="M352.25 156.07 L353.25 157.33 L354.25 158.58 L355.25 159.82 L356.25 161.06 L357.24 162.28 L358.24 163.50 L359.24 164.71 L360.24 165.91 L361.24 167.10 L362.24 168.28 L363.24 169.45 L364.24 170.62 L365.24 171.77 L366.24 172.92 L367.23 174.06 L368.23 175.19 L369.23 176.31 L370.23 177.42 L371.23 178.52 L372.23 179.62 L373.23 180.70 L374.23 181.78 L375.23 182.85 L376.23 183.91 L377.22 184.97 L378.22 186.01 L379.22 187.05 L380.22 188.08 L381.22 189.10 L382.22 190.11 L383.22 191.11 L384.22 192.11 L385.22 193.09 L386.21 194.07 L387.21 195.04 L388.21 196.00 L389.21 196.96 L390.21 197.90 L391.21 198.84 L392.21 199.77 L393.21 200.69 L394.21 201.61 L395.21 202.51 L396.20 203.41 L397.20 204.30 L398.20 205.18 L399.20 206.06 L400.20 206.93 L401.20 207.79 L402.20 208.64 L403.20 209.48 L404.20 210.32 L405.20 211.14 L406.19 211.96 L407.19 212.78 L408.19 213.58 L409.19 214.38 L410.19 215.17 L411.19 215.95 L412.19 216.73 L413.19 217.50 L414.19 218.26 L415.18 219.01 L416.18 219.75 L417.18 220.49 L418.18 221.22 L419.18 221.95 L420.18 222.66 L421.18 223.37 L422.18 224.07 L423.18 224.77 L424.18 225.45 L425.17 226.13 L426.17 226.80 L427.17 227.47 L428.17 228.13 L429.17 228.78 L430.17 229.42 L431.17 230.06 L432.17 230.69 L433.17 231.31 L434.17 231.93 L435.16 232.54 L436.16 233.14 L437.16 233.74 L438.16 234.33 L439.16 234.91 L440.16 235.48 L441.16 236.05 L442.16 236.61 L443.16 237.17 L444.15 237.72 L445.15 238.26 L446.15 238.79 L447.15 239.32 L448.15 239.84 L449.15 240.36 L450.15 240.87 L451.15 241.37 L452.15 241.86 L453.15 242.35 L454.14 242.84 L455.14 243.31 L456.14 243.78 L457.14 244.25 L458.14 244.70 L459.14 245.15 L460.14 245.60 L461.14 246.04 L462.14 246.47 L463.14 246.89 L464.13 247.31 L465.13 247.73 L466.13 248.13 L467.13 248.54 L468.13 248.93 L469.13 249.32 L470.13 249.70 L471.13 250.08 L472.13 250.45 L473.12 250.82 L474.12 251.17 L475.12 251.53 L476.12 251.88 L477.12 252.22 L478.12 252.55 L479.12 252.88 L480.12 253.21 L481.12 253.52 L482.12 253.84 L483.11 254.14 L484.11 254.45 L485.11 254.74 L486.11 255.03 L487.11 255.31 L488.11 255.59 L489.11 255.87 L490.11 256.13 L491.11 256.40 L492.11 256.65 L493.10 256.90 L493.49 257.00 L494.10 256.85 L495.10 256.61 L496.10 256.37 L497.10 256.15 L498.10 255.92 L499.10 255.70 L500.10 255.49 L501.10 255.28 L502.10 255.08 L503.09 254.88 L504.09 254.69 L505.09 254.50 L506.09 254.32 L507.09 254.14 L508.09 253.97 L509.09 253.80 L510.09 253.64 L511.09 253.48 L512.08 253.33 L513.08 253.18 L514.08 253.04 L515.08 252.90 L516.08 252.76 L517.08 252.64 L518.08 252.51 L519.08 252.40 L520.08 252.28 L521.08 252.17 L522.07 252.07 L523.07 251.97 L524.07 251.87 L525.07 251.78 L526.07 251.70 L527.07 251.62 L528.07 251.54 L529.07 251.47 L530.07 251.40 L531.07 251.34 L532.06 251.28 L533.06 251.23 L534.06 251.18 L535.06 251.13 L536.06 251.09 L537.06 251.06 L538.06 251.02 L539.06 251.00 L540.06 250.97 L541.05 250.95 L542.05 250.94 L543.05 250.93 L544.05 250.92 L545.05 250.92 L546.05 250.92 L547.05 250.92 L548.05 250.93 L549.05 250.95 L550.05 250.96 L551.04 250.99 L552.04 251.01 L553.04 251.04 L554.04 251.07 L555.04 251.11 L556.04 251.15 L557.04 251.20 L558.04 251.25 L559.04 251.30 L560.04 251.36 L561.03 251.42 L562.03 251.48 L563.03 251.55 L564.03 251.62 L565.03 251.69 L566.03 251.77 L567.03 251.85 L568.03 251.94 L569.03 252.03 L570.02 252.12 L571.02 252.21 L572.02 252.31 L573.02 252.42 L574.02 252.52 L575.02 252.63 L576.02 252.74 L577.02 252.86 L578.02 252.98 L579.02 253.10 L580.01 253.23 L581.01 253.36 L582.01 253.49 L583.01 253.63 L584.01 253.76 L585.01 253.91 L586.01 254.05 L587.01 254.20 L588.01 254.35 L589.01 254.50 L590.00 254.66 L591.00 254.82 L592.00 254.98 L593.00 255.15 L594.00 255.32" fill="none" stroke="#c285ff" stroke-width="1.35" stroke-linejoin="round" stroke-linecap="butt"/>
<path d="M352.25 98.47 L353.25 98.65 L354.25 98.83 L355.25 99.01 L356.25 99.18 L357.24 99.36 L358.24 99.53 L359.24 99.70 L360.24 99.87 L361.24 100.04 L362.24 100.21 L363.24 100.37 L364.24 100.54 L365.24 100.70 L366.24 100.86 L367.23 101.01 L368.23 101.17 L369.23 101.33 L370.23 101.48 L371.23 101.63 L372.23 101.78 L373.23 101.93 L374.23 102.07 L375.23 102.22 L376.23 102.36 L377.22 102.50 L378.22 102.64 L379.22 102.78 L380.22 102.92 L381.22 103.05 L382.22 103.18 L383.22 103.32 L384.22 103.45 L385.22 103.57 L386.21 103.70 L387.21 103.83 L388.21 103.95 L389.21 104.07 L390.21 104.19 L391.21 104.31 L392.21 104.43 L393.21 104.54 L394.21 104.66 L395.21 104.77 L396.20 104.88 L397.20 104.99 L398.20 105.10 L399.20 105.20 L400.20 105.31 L401.20 105.41 L402.20 105.51 L403.20 105.61 L404.20 105.71 L405.20 105.81 L406.19 105.90 L407.19 106.00 L408.19 106.09 L409.19 106.18 L410.19 106.27 L411.19 106.35 L412.19 106.44 L413.19 106.53 L414.19 106.61 L415.18 106.69 L416.18 106.77 L417.18 106.85 L418.18 106.93 L419.18 107.00 L420.18 107.08 L421.18 107.15 L422.18 107.22 L423.18 107.29 L424.18 107.36 L425.17 107.42 L426.17 107.49 L427.17 107.55 L428.17 107.62 L429.17 107.68 L430.17 107.74 L431.17 107.79 L432.17 107.85 L433.17 107.91 L434.17 107.96 L435.16 108.01 L436.16 108.06 L437.16 108.11 L438.16 108.16 L439.16 108.21 L440.16 108.25 L441.16 108.30 L442.16 108.34 L443.16 108.38 L444.15 108.42 L445.15 108.46 L446.15 108.50 L447.15 108.53 L448.15 108.57 L449.15 108.60 L450.15 108.63 L451.15 108.66 L452.15 108.69 L453.15 108.72 L454.14 108.74 L455.14 108.77 L456.14 108.79 L457.14 108.81 L458.14 108.83 L459.14 108.85 L460.14 108.87 L461.14 108.89 L462.14 108.90 L463.14 108.92 L464.13 108.93 L465.13 108.94 L466.13 108.95 L467.13 108.96 L468.13 108.97 L469.13 108.97 L470.13 108.98 L471.13 108.98 L472.13 108.99 L473.12 108.99 L474.12 108.99 L475.12 108.99 L476.12 108.98 L477.12 108.98 L478.12 108.97 L479.12 108.97 L480.12 108.96 L481.12 108.95 L482.12 108.94 L483.11 108.93 L484.11 108.92 L485.11 108.90 L486.11 108.89 L487.11 108.87 L488.11 108.85 L489.11 108.84 L490.11 108.82 L491.11 108.79 L492.11 108.77 L493.10 108.75 L494.10 108.72 L495.10 108.70 L496.10 108.67 L497.10 108.64 L498.10 108.61 L499.10 108.58 L500.10 108.55 L501.10 108.52 L502.10 108.48 L503.09 108.45 L504.09 108.41 L505.09 108.37 L506.09 108.34 L507.09 108.30 L508.09 108.25 L509.09 108.21 L510.09 108.17 L511.09 108.12 L512.08 108.08 L513.08 108.03 L514.08 107.98 L515.08 107.94 L516.08 107.89 L517.08 107.83 L518.08 107.78 L519.08 107.73 L520.08 107.67 L521.08 107.62 L522.07 107.56 L523.07 107.50 L524.07 107.45 L525.07 107.39 L526.07 107.33 L527.07 107.26 L528.07 107.20 L529.07 107.14 L530.07 107.07 L531.07 107.00 L532.06 106.94 L533.06 106.87 L534.06 106.80 L535.06 106.73 L536.06 106.66 L537.06 106.59 L538.06 106.51 L539.06 106.44 L540.06 106.36 L541.05 106.29 L542.05 106.21 L543.05 106.13 L544.05 106.05 L545.05 105.97 L546.05 105.89 L547.05 105.81 L548.05 105.72 L549.05 105.64 L550.05 105.55 L551.04 105.47 L552.04 105.38 L553.04 105.29 L554.04 105.20 L555.04 105.11 L556.04 105.02 L557.04 104.93 L558.04 104.83 L559.04 104.74 L560.04 104.64 L561.03 104.55 L562.03 104.45 L563.03 104.35 L564.03 104.26 L565.03 104.16 L566.03 104.06 L567.03 103.95 L568.03 103.85 L569.03 103.75 L570.02 103.64 L571.02 103.54 L572.02 103.43 L573.02 103.33 L574.02 103.22 L575.02 103.11 L576.02 103.00 L577.02 102.89 L578.02 102.78 L579.02 102.67 L580.01 102.55 L581.01 102.44 L582.01 102.32 L583.01 102.21 L584.01 102.09 L585.01 101.98 L586.01 101.86 L587.01 101.74 L588.01 101.62 L589.01 101.50 L590.00 101.38 L591.00 101.26 L592.00 101.13 L593.00 101.01 L594.00 100.88" fill="none" stroke="#ff10f0" stroke-width="1.2" stroke-linejoin="round" stroke-linecap="butt"/>
<path d="M352.25 205.75 L353.25 205.84 L354.25 205.94 L355.25 206.04 L356.25 206.14 L357.24 206.23 L358.24 206.33 L359.24 206.43 L360.24 206.52 L361.24 206.62 L362.24 206.71 L363.24 206.81 L364.24 206.90 L365.24 207.00 L366.24 207.09 L367.23 207.18 L368.23 207.27 L369.23 207.37 L370.23 207.46 L371.23 207.55 L372.23 207.64 L373.23 207.73 L374.23 207.82 L375.23 207.91 L376.23 208.00 L377.22 208.09 L378.22 208.18 L379.22 208.27 L380.22 208.36 L381.22 208.44 L382.22 208.53 L383.22 208.62 L384.22 208.70 L385.22 208.79 L386.21 208.88 L387.21 208.96 L388.21 209.05 L389.21 209.13 L390.21 209.21 L391.21 209.30 L392.21 209.38 L393.21 209.46 L394.21 209.55 L395.21 209.63 L396.20 209.71 L397.20 209.79 L398.20 209.87 L399.20 209.95 L400.20 210.03 L401.20 210.11 L402.20 210.19 L403.20 210.27 L404.20 210.35 L405.20 210.43 L406.19 210.51 L407.19 210.58 L408.19 210.66 L409.19 210.74 L410.19 210.81 L411.19 210.89 L412.19 210.97 L413.19 211.04 L414.19 211.12 L415.18 211.19 L416.18 211.26 L417.18 211.34 L418.18 211.41 L419.18 211.48 L420.18 211.56 L421.18 211.63 L422.18 211.70 L423.18 211.77 L424.18 211.84 L425.17 211.91 L426.17 211.98 L427.17 212.05 L428.17 212.12 L429.17 212.19 L430.17 212.26 L431.17 212.33 L432.17 212.40 L433.17 212.46 L434.17 212.53 L435.16 212.60 L436.16 212.66 L437.16 212.73 L438.16 212.79 L439.16 212.86 L440.16 212.92 L441.16 212.99 L442.16 213.05 L443.16 213.12 L444.15 213.18 L445.15 213.24 L446.15 213.30 L447.15 213.37 L448.15 213.43 L449.15 213.49 L450.15 213.55 L451.15 213.61 L452.15 213.67 L453.15 213.73 L454.14 213.79 L455.14 213.85 L456.14 213.91 L457.14 213.96 L458.14 214.02 L459.14 214.08 L460.14 214.14 L461.14 214.19 L462.14 214.25 L463.14 214.30 L464.13 214.36 L465.13 214.41 L466.13 214.47 L467.13 214.52 L468.13 214.58 L469.13 214.63 L470.13 214.68 L471.13 214.74 L472.13 214.79 L473.12 214.84 L474.12 214.89 L475.12 214.94 L476.12 214.99 L477.12 215.04 L478.12 215.09 L479.12 215.14 L480.12 215.19 L481.12 215.24 L482.12 215.29 L483.11 215.34 L484.11 215.38 L485.11 215.43 L486.11 215.48 L487.11 215.52 L488.11 215.57 L489.11 215.61 L490.11 215.66 L491.11 215.70 L492.11 215.75 L493.10 215.79 L494.10 215.84 L495.10 215.88 L496.10 215.92 L497.10 215.96 L498.10 216.01 L499.10 216.05 L500.10 216.09 L501.10 216.13 L502.10 216.17 L503.09 216.21 L504.09 216.25 L505.09 216.29 L506.09 216.33 L507.09 216.37 L508.09 216.40 L509.09 216.44 L510.09 216.48 L511.09 216.52 L512.08 216.55 L513.08 216.59 L514.08 216.62 L515.08 216.66 L516.08 216.69 L517.08 216.73 L518.08 216.76 L519.08 216.80 L520.08 216.83 L521.08 216.86 L522.07 216.89 L523.07 216.93 L524.07 216.96 L525.07 216.99 L526.07 217.02 L527.07 217.05 L528.07 217.08 L529.07 217.11 L530.07 217.14 L531.07 217.17 L532.06 217.20 L533.06 217.23 L534.06 217.25 L535.06 217.28 L536.06 217.31 L537.06 217.33 L538.06 217.36 L539.06 217.39 L540.06 217.41 L541.05 217.44 L542.05 217.46 L543.05 217.48 L544.05 217.51 L545.05 217.53 L546.05 217.55 L547.05 217.58 L548.05 217.60 L549.05 217.62 L550.05 217.64 L551.04 217.66 L552.04 217.68 L553.04 217.70 L554.04 217.72 L555.04 217.74 L556.04 217.76 L557.04 217.78 L558.04 217.80 L559.04 217.82 L560.04 217.83 L561.03 217.85 L562.03 217.87 L563.03 217.88 L564.03 217.90 L565.03 217.92 L566.03 217.93 L567.03 217.95 L568.03 217.96 L569.03 217.97 L570.02 217.99 L571.02 218.00 L572.02 218.01 L573.02 218.02 L574.02 218.04 L575.02 218.05 L576.02 218.06 L577.02 218.07 L578.02 218.08 L579.02 218.09 L580.01 218.10 L581.01 218.11 L582.01 218.12 L583.01 218.12 L584.01 218.13 L585.01 218.14 L586.01 218.15 L587.01 218.15 L588.01 218.16 L589.01 218.17 L590.00 218.17 L591.00 218.18 L592.00 218.18 L593.00 218.18 L594.00 218.19" fill="none" stroke="#2f962f" stroke-width="1.35" stroke-linejoin="round" stroke-linecap="butt"/>
<path d="M352.25 182.05 L353.25 182.14 L354.25 182.24 L355.25 182.33 L356.25 182.43 L357.24 182.52 L358.24 182.62 L359.24 182.71 L360.24 182.80 L361.24 182.90 L362.24 182.99 L363.24 183.08 L364.24 183.17 L365.24 183.26 L366.24 183.36 L367.23 183.45 L368.23 183.54 L369.23 183.63 L370.23 183.72 L371.23 183.81 L372.23 183.90 L373.23 183.98 L374.23 184.07 L375.23 184.16 L376.23 184.25 L377.22 184.34 L378.22 184.42 L379.22 184.51 L380.22 184.59 L381.22 184.68 L382.22 184.77 L383.22 184.85 L384.22 184.94 L385.22 185.02 L386.21 185.10 L387.21 185.19 L388.21 185.27 L389.21 185.35 L390.21 185.43 L391.21 185.52 L392.21 185.60 L393.21 185.68 L394.21 185.76 L395.21 185.84 L396.20 185.92 L397.20 186.00 L398.20 186.08 L399.20 186.16 L400.20 186.24 L401.20 186.31 L402.20 186.39 L403.20 186.47 L404.20 186.55 L405.20 186.62 L406.19 186.70 L407.19 186.77 L408.19 186.85 L409.19 186.93 L410.19 187.00 L411.19 187.07 L412.19 187.15 L413.19 187.22 L414.19 187.29 L415.18 187.37 L416.18 187.44 L417.18 187.51 L418.18 187.58 L419.18 187.65 L420.18 187.72 L421.18 187.79 L422.18 187.86 L423.18 187.93 L424.18 188.00 L425.17 188.07 L426.17 188.14 L427.17 188.20 L428.17 188.27 L429.17 188.34 L430.17 188.41 L431.17 188.47 L432.17 188.54 L433.17 188.60 L434.17 188.67 L435.16 188.73 L436.16 188.79 L437.16 188.86 L438.16 188.92 L439.16 188.98 L440.16 189.05 L441.16 189.11 L442.16 189.17 L443.16 189.23 L444.15 189.29 L445.15 189.35 L446.15 189.41 L447.15 189.47 L448.15 189.53 L449.15 189.59 L450.15 189.64 L451.15 189.70 L452.15 189.76 L453.15 189.82 L454.14 189.87 L455.14 189.93 L456.14 189.98 L457.14 190.04 L458.14 190.09 L459.14 190.15 L460.14 190.20 L461.14 190.25 L462.14 190.30 L463.14 190.36 L464.13 190.41 L465.13 190.46 L466.13 190.51 L467.13 190.56 L468.13 190.61 L469.13 190.66 L470.13 190.71 L471.13 190.76 L472.13 190.81 L473.12 190.85 L474.12 190.90 L475.12 190.95 L476.12 190.99 L477.12 191.04 L478.12 191.09 L479.12 191.13 L480.12 191.18 L481.12 191.22 L482.12 191.26 L483.11 191.31 L484.11 191.35 L485.11 191.39 L486.11 191.43 L487.11 191.47 L488.11 191.51 L489.11 191.55 L490.11 191.59 L491.11 191.63 L492.11 191.67 L493.10 191.71 L494.10 191.75 L495.10 191.79 L496.10 191.82 L497.10 191.86 L498.10 191.90 L499.10 191.93 L500.10 191.97 L501.10 192.00 L502.10 192.04 L503.09 192.07 L504.09 192.10 L505.09 192.14 L506.09 192.17 L507.09 192.20 L508.09 192.23 L509.09 192.26 L510.09 192.29 L511.09 192.32 L512.08 192.35 L513.08 192.38 L514.08 192.41 L515.08 192.44 L516.08 192.46 L517.08 192.49 L518.08 192.52 L519.08 192.54 L520.08 192.57 L521.08 192.59 L522.07 192.62 L523.07 192.64 L524.07 192.66 L525.07 192.69 L526.07 192.71 L527.07 192.73 L528.07 192.75 L529.07 192.77 L530.07 192.79 L531.07 192.81 L532.06 192.83 L533.06 192.85 L534.06 192.87 L535.06 192.89 L536.06 192.91 L537.06 192.92 L538.06 192.94 L539.06 192.96 L540.06 192.97 L541.05 192.99 L542.05 193.00 L543.05 193.01 L544.05 193.03 L545.05 193.04 L546.05 193.05 L547.05 193.06 L548.05 193.07 L549.05 193.09 L550.05 193.10 L551.04 193.11 L552.04 193.11 L553.04 193.12 L554.04 193.13 L555.04 193.14 L556.04 193.15 L557.04 193.15 L558.04 193.16 L559.04 193.16 L560.04 193.17 L561.03 193.17 L562.03 193.18 L563.03 193.18 L564.03 193.18 L565.03 193.18 L566.03 193.19 L567.03 193.19 L568.03 193.19 L569.03 193.19 L570.02 193.19 L571.02 193.19 L572.02 193.19 L573.02 193.18 L574.02 193.18 L575.02 193.18 L576.02 193.17 L577.02 193.17 L578.02 193.16 L579.02 193.16 L580.01 193.15 L581.01 193.15 L582.01 193.14 L583.01 193.13 L584.01 193.12 L585.01 193.12 L586.01 193.11 L587.01 193.10 L588.01 193.09 L589.01 193.08 L590.00 193.06 L591.00 193.05 L592.00 193.04 L593.00 193.03 L594.00 193.01" fill="none" stroke="#1a1aff" stroke-width="1.5" stroke-linejoin="round" stroke-linecap="butt"/>
<path d="M390.80 257.00 V78.00" stroke="#000" stroke-width="1.9"/>
<path d="M496.25 257.00 V82.00" stroke="#000" stroke-width="1.9"/>
<path d="M582.00 257.00 V74.40" stroke="#000" stroke-width="1.9"/>
<path d="M352.25 72.32 L353.25 72.50 L354.25 72.69 L355.25 72.87 L356.25 73.04 L357.24 73.22 L358.24 73.40 L359.24 73.57 L360.24 73.74 L361.24 73.91 L362.24 74.08 L363.24 74.25 L364.24 74.41 L365.24 74.57 L366.24 74.73 L367.23 74.89 L368.23 75.05 L369.23 75.21 L370.23 75.36 L371.23 75.51 L372.23 75.66 L373.23 75.81 L374.23 75.96 L375.23 76.10 L376.23 76.24 L377.22 76.39 L378.22 76.52 L379.22 76.66 L380.22 76.80 L381.22 76.93 L382.22 77.07 L383.22 77.20 L384.22 77.33 L385.22 77.45 L386.21 77.58 L387.21 77.70 L388.21 77.83 L389.21 77.95 L390.21 78.07 L391.21 78.18 L392.21 78.30 L393.21 78.41 L394.21 78.53 L395.21 78.64 L396.20 78.74 L397.20 78.85 L398.20 78.96 L399.20 79.06 L400.20 79.16 L401.20 79.26 L402.20 79.36 L403.20 79.46 L404.20 79.56 L405.20 79.65 L406.19 79.74 L407.19 79.83 L408.19 79.92 L409.19 80.01 L410.19 80.10 L411.19 80.18 L412.19 80.27 L413.19 80.35 L414.19 80.43 L415.18 80.50 L416.18 80.58 L417.18 80.66 L418.18 80.73 L419.18 80.80 L420.18 80.87 L421.18 80.94 L422.18 81.01 L423.18 81.07 L424.18 81.14 L425.17 81.20 L426.17 81.26 L427.17 81.32 L428.17 81.38 L429.17 81.43 L430.17 81.49 L431.17 81.54 L432.17 81.59 L433.17 81.64 L434.17 81.69 L435.16 81.74 L436.16 81.78 L437.16 81.83 L438.16 81.87 L439.16 81.91 L440.16 81.95 L441.16 81.99 L442.16 82.03 L443.16 82.06 L444.15 82.10 L445.15 82.13 L446.15 82.16 L447.15 82.19 L448.15 82.22 L449.15 82.24 L450.15 82.27 L451.15 82.29 L452.15 82.31 L453.15 82.33 L454.14 82.35 L455.14 82.37 L456.14 82.39 L457.14 82.40 L458.14 82.42 L459.14 82.43 L460.14 82.44 L461.14 82.45 L462.14 82.46 L463.14 82.46 L464.13 82.47 L465.13 82.47 L466.13 82.48 L467.13 82.48 L468.13 82.48 L469.13 82.47 L470.13 82.47 L471.13 82.47 L472.13 82.46 L473.12 82.45 L474.12 82.45 L475.12 82.44 L476.12 82.42 L477.12 82.41 L478.12 82.40 L479.12 82.38 L480.12 82.37 L481.12 82.35 L482.12 82.33 L483.11 82.31 L484.11 82.29 L485.11 82.26 L486.11 82.24 L487.11 82.21 L488.11 82.19 L489.11 82.16 L490.11 82.13 L491.11 82.10 L492.11 82.07 L493.10 82.03 L494.10 82.00 L495.10 81.96 L496.10 81.93 L497.10 81.89 L498.10 81.85 L499.10 81.81 L500.10 81.77 L501.10 81.72 L502.10 81.68 L503.09 81.63 L504.09 81.58 L505.09 81.54 L506.09 81.49 L507.09 81.44 L508.09 81.38 L509.09 81.33 L510.09 81.28 L511.09 81.22 L512.08 81.17 L513.08 81.11 L514.08 81.05 L515.08 80.99 L516.08 80.93 L517.08 80.86 L518.08 80.80 L519.08 80.74 L520.08 80.67 L521.08 80.60 L522.07 80.53 L523.07 80.46 L524.07 80.39 L525.07 80.32 L526.07 80.25 L527.07 80.17 L528.07 80.10 L529.07 80.02 L530.07 79.95 L531.07 79.87 L532.06 79.79 L533.06 79.71 L534.06 79.62 L535.06 79.54 L536.06 79.46 L537.06 79.37 L538.06 79.29 L539.06 79.20 L540.06 79.11 L541.05 79.02 L542.05 78.93 L543.05 78.84 L544.05 78.75 L545.05 78.65 L546.05 78.56 L547.05 78.46 L548.05 78.36 L549.05 78.27 L550.05 78.17 L551.04 78.07 L552.04 77.97 L553.04 77.86 L554.04 77.76 L555.04 77.66 L556.04 77.55 L557.04 77.44 L558.04 77.34 L559.04 77.23 L560.04 77.12 L561.03 77.01 L562.03 76.90 L563.03 76.79 L564.03 76.67 L565.03 76.56 L566.03 76.44 L567.03 76.33 L568.03 76.21 L569.03 76.09 L570.02 75.97 L571.02 75.85 L572.02 75.73 L573.02 75.61 L574.02 75.49 L575.02 75.37 L576.02 75.24 L577.02 75.11 L578.02 74.99 L579.02 74.86 L580.01 74.73 L581.01 74.60 L582.01 74.47 L583.01 74.34 L584.01 74.21 L585.01 74.08 L586.01 73.94 L587.01 73.81 L588.01 73.67 L589.01 73.54 L590.00 73.40 L591.00 73.26 L592.00 73.12 L593.00 72.98 L594.00 72.84" fill="none" stroke="#10cccc" stroke-width="1.2" stroke-linejoin="round" stroke-linecap="butt"/>
<rect x="352.25" y="8.10" width="241.75" height="248.90" fill="none" stroke="#000" stroke-width="1.5"/>
</g>
<path d="M624.20 25.50 H636.00" stroke="#000" stroke-width="1.3" stroke-dasharray="3.8 3.9"/>
<path d="M624.20 44.30 H637.60" stroke="#000" stroke-width="1.3" stroke-dasharray="1.2 1.5"/>
<path d="M624.20 64.70 H637.60" stroke="#000" stroke-width="1.5" stroke-dasharray="6 1.8 1.4 1.8 1.4 1.8"/>
<path d="M624.00 84.60 H638.00" stroke="#ffa51a" stroke-width="1.3"/>
<path d="M624.00 104.20 H638.00" stroke="#c285ff" stroke-width="1.2"/>
<path d="M624.00 124.00 H638.00" stroke="#ff3636" stroke-width="1.45"/>
<path d="M624.00 143.50 H638.00" stroke="#ff10f0" stroke-width="1.3"/>
<path d="M624.00 163.30 H638.00" stroke="#10cccc" stroke-width="1.3"/>
<path d="M624.00 183.20 H638.00" stroke="#1a1aff" stroke-width="1.5"/>
<path d="M624.00 202.80 H638.00" stroke="#44a244" stroke-width="1.7"/>
</svg>
<svg class="txt" width="822" height="310" viewBox="0 0 822 310">
<text x="67.58" y="274.8" text-anchor="middle" class="tl">17</text>
<text x="100.71" y="274.8" text-anchor="middle" class="tl">18</text>
<text x="133.84" y="274.8" text-anchor="middle" class="tl">19</text>
<text x="166.97" y="274.8" text-anchor="middle" class="tl">20</text>
<text x="200.10" y="274.8" text-anchor="middle" class="tl">21</text>
<text x="233.23" y="274.8" text-anchor="middle" class="tl">22</text>
<text x="266.36" y="274.8" text-anchor="middle" class="tl">23</text>
<text x="40.80" y="259.60" text-anchor="end" class="tl">0</text>
<text x="40.80" y="187.94" text-anchor="end" class="tl">2</text>
<text x="40.80" y="116.88" text-anchor="end" class="tl">4</text>
<text x="40.80" y="45.82" text-anchor="end" class="tl">6</text>
<text x="370.13" y="274.8" text-anchor="middle" class="tl">17</text>
<text x="403.26" y="274.8" text-anchor="middle" class="tl">18</text>
<text x="436.39" y="274.8" text-anchor="middle" class="tl">19</text>
<text x="469.52" y="274.8" text-anchor="middle" class="tl">20</text>
<text x="502.65" y="274.8" text-anchor="middle" class="tl">21</text>
<text x="535.78" y="274.8" text-anchor="middle" class="tl">22</text>
<text x="568.91" y="274.8" text-anchor="middle" class="tl">23</text>
<text x="343.35" y="259.60" text-anchor="end" class="tl">0</text>
<text x="343.35" y="187.94" text-anchor="end" class="tl">2</text>
<text x="343.35" y="116.88" text-anchor="end" class="tl">4</text>
<text x="343.35" y="45.82" text-anchor="end" class="tl">6</text>
<text x="132.20" y="300.6" class="lab it">q</text>
<text x="141.30" y="296.4" class="sup it">2</text>
<text x="157.60" y="300.6" class="lab">[GeV</text>
<text x="194.70" y="296.4" class="sans" font-size="11.2">2</text>
<text x="202.80" y="300.6" class="lab">]</text>
<text x="434.75" y="300.6" class="lab it">q</text>
<text x="443.85" y="296.4" class="sup it">2</text>
<text x="460.15" y="300.6" class="lab">[GeV</text>
<text x="497.25" y="296.4" class="sans" font-size="11.2">2</text>
<text x="505.35" y="300.6" class="lab">]</text>
<g transform="translate(19.70 171.6) rotate(-90)">
<text x="-0.2" y="0" class="sans" font-size="17.4">Δ</text>
<text x="14.2" y="0" class="lab it">f</text>
<text x="20.6" y="4.4" class="sans" font-size="10.5">+</text>
<text x="26.9" y="-6.0" class="it" font-size="11.5">B</text>
<text x="33.7" y="-3.8" class="it" font-size="8.3">s</text>
<text x="36.8" y="-6.0" class="it" font-size="11.5">K</text>
<text x="54.0" y="0.2" class="sans" font-size="16.3">[%]</text>
</g>
<g transform="translate(321.20 171.6) rotate(-90)">
<text x="-0.2" y="0" class="sans" font-size="17.4">Δ</text>
<text x="14.2" y="0" class="lab it">f</text>
<text x="20.4" y="4.7" class="sans" font-size="11">0</text>
<text x="26.9" y="-6.0" class="it" font-size="11.5">B</text>
<text x="33.7" y="-3.8" class="it" font-size="8.3">s</text>
<text x="36.8" y="-6.0" class="it" font-size="11.5">K</text>
<text x="54.0" y="0.2" class="sans" font-size="16.3">[%]</text>
</g>
<text x="645.20" y="28.80" class="lg">varying <tspan class="it">g</tspan></text>
<text x="645.20" y="48.30" class="lg">varying <tspan class="it">f</tspan><tspan font-size="12.5" font-weight="bold" dy="2.8">π</tspan></text>
<text x="645.20" y="70.20" class="lg">varying <tspan class="it">M</tspan><tspan class="it" font-size="10" dy="2.8">B</tspan><tspan class="it" font-size="7.5" dy="-2.6">*</tspan><tspan dy="-0.2" dx="0.4">(0</tspan><tspan class="sans" font-size="10.5" dx="0.5" dy="-5.6">+</tspan><tspan dy="5.6">)</tspan></text>
<text x="645.20" y="87.00" class="lg">omitting zero momentum</text>
<text x="645.20" y="107.00" class="lg">omitting largest momentum</text>
<text x="645.20" y="128.60" class="lg">omitting <tspan class="it">a</tspan><tspan font-size="8.2" dx="0.8" dy="-6.2">2</tspan><tspan dy="6.2" dx="0.6"> term</tspan></text>
<text x="645.20" y="147.90" class="lg">omitting <tspan class="it">M</tspan><tspan font-size="8.2" dx="1.2" dy="-6.2">2</tspan><tspan class="it" font-size="13" dx="-6.2" dy="9.8">π</tspan><tspan dy="-3.6" dx="3.4"> term</tspan></text>
<text x="645.20" y="167.70" class="lg">omitting <tspan class="it">a</tspan><tspan font-size="8.2" dx="0.8" dy="-6.2">2</tspan><tspan dy="6.2" dx="0.6"> and </tspan><tspan class="it">M</tspan><tspan font-size="8.2" dx="1.2" dy="-6.2">2</tspan><tspan class="it" font-size="13" dx="-6.2" dy="9.8">π</tspan><tspan dy="-3.6" dx="3.4"> terms</tspan></text>
<text x="645.20" y="185.50" class="lg">analytic</text>
<text x="645.20" y="206.90" class="lg">analytic omitting <tspan class="it">a</tspan><tspan font-size="8.2" dx="0.8" dy="-6.2">2</tspan><tspan dy="6.2" dx="0.6"> term</tspan></text>
</svg>
</body></html>
